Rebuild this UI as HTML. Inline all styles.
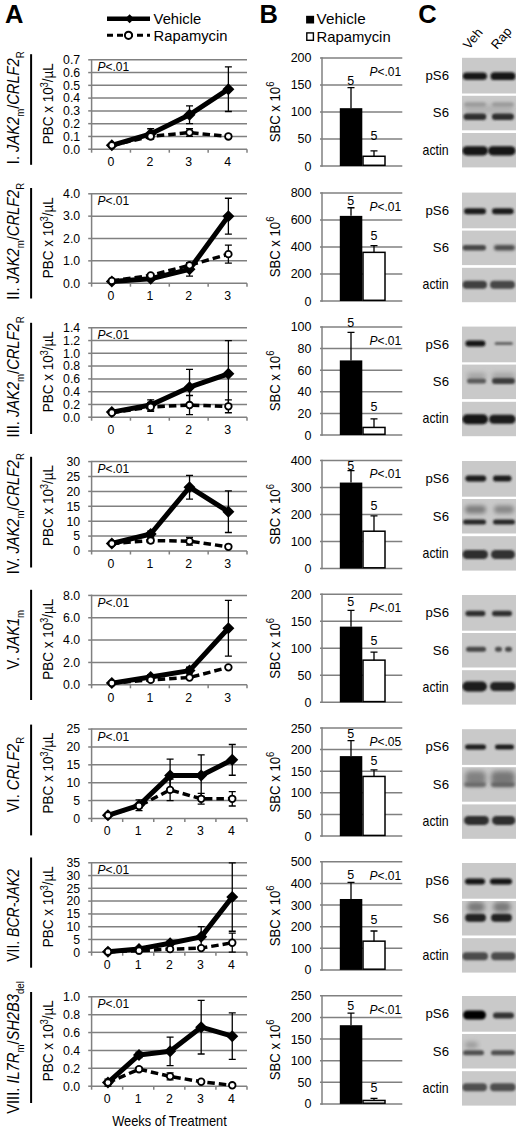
<!DOCTYPE html>
<html><head><meta charset="utf-8"><title>Figure</title><style>html,body{margin:0;padding:0;background:#fff;}body{width:520px;height:1130px;overflow:hidden;}svg{display:block;}</style></head><body>
<svg width="520" height="1130" viewBox="0 0 520 1130" font-family='"Liberation Sans", sans-serif'>
<defs><filter id="bl" x="-20%" y="-50%" width="140%" height="200%"><feGaussianBlur stdDeviation="0.9"/></filter><filter id="bl2" x="-20%" y="-50%" width="140%" height="200%"><feGaussianBlur stdDeviation="2.5"/></filter></defs>
<rect width="520" height="1130" fill="#fff"/>
<text transform="translate(5.00,22.70)" font-size="25.5" text-anchor="start" font-weight="bold" font-style="normal" fill="#000" >A</text>
<text transform="translate(259.40,22.70)" font-size="25.5" text-anchor="start" font-weight="bold" font-style="normal" fill="#000" >B</text>
<text transform="translate(418.20,22.70)" font-size="25.5" text-anchor="start" font-weight="bold" font-style="normal" fill="#000" >C</text>
<line x1="107" y1="18.8" x2="150" y2="18.8" stroke="#000" stroke-width="4.5"/>
<path d="M129.6,14.3 L134.1,18.8 L129.6,23.3 L125.1,18.8 Z" fill="#000"/>
<text transform="translate(153.60,23.50) scale(1.02,1)" font-size="14.5" text-anchor="start" font-weight="normal" font-style="normal" fill="#000" >Vehicle</text>
<line x1="107" y1="35.3" x2="150" y2="35.3" stroke="#000" stroke-width="3" stroke-dasharray="6,4"/>
<circle cx="128.5" cy="35.3" r="3.6" fill="#fff" stroke="#000" stroke-width="2"/>
<text transform="translate(153.60,41.00) scale(1.02,1)" font-size="14.5" text-anchor="start" font-weight="normal" font-style="normal" fill="#000" >Rapamycin</text>
<rect x="306.1" y="15.8" width="8" height="7.7" fill="#000"/>
<text transform="translate(316.60,23.90) scale(1.03,1)" font-size="14.8" text-anchor="start" font-weight="normal" font-style="normal" fill="#000" >Vehicle</text>
<rect x="306.8" y="32.9" width="6.6" height="7.4" fill="#fff" stroke="#000" stroke-width="1.4"/>
<text transform="translate(316.60,41.60)" font-size="14.8" text-anchor="start" font-weight="normal" font-style="normal" fill="#000" >Rapamycin</text>
<text transform="translate(469.00,50.00) rotate(-50)" font-size="13" text-anchor="start" font-weight="normal" font-style="normal" fill="#000" >Veh</text>
<text transform="translate(497.00,50.00) rotate(-50)" font-size="13" text-anchor="start" font-weight="normal" font-style="normal" fill="#000" >Rap</text>
<text transform="translate(19.40,107.75) rotate(-90) scale(0.917,1)" font-size="16" text-anchor="middle" font-weight="normal" font-style="normal" fill="#000" >I. <tspan font-style="italic">JAK2</tspan><tspan font-size="10.5" dy="4.1">m</tspan><tspan dy="-4.1">/</tspan><tspan font-style="italic">CRLF2</tspan><tspan font-size="10.5" dy="4.1">R</tspan></text>
<line x1="31.1" y1="54.2" x2="31.1" y2="164.8" stroke="#000" stroke-width="2"/>
<text transform="translate(52.80,103.70) rotate(-90) scale(0.9,1)" font-size="15" text-anchor="middle" font-weight="normal" font-style="normal" fill="#000" >PBC x 10<tspan font-size="10" dy="-5.2">3</tspan><tspan dy="5.2">/µL</tspan></text>
<line x1="88.2" y1="149.20" x2="91.6" y2="149.20" stroke="#808080" stroke-width="1.5"/>
<text transform="translate(80.20,153.50)" font-size="12.3" text-anchor="end" font-weight="normal" font-style="normal" fill="#000" >0.0</text>
<line x1="91.6" y1="136.43" x2="247.0" y2="136.43" stroke="#808080" stroke-width="1.5"/>
<line x1="88.2" y1="136.43" x2="91.6" y2="136.43" stroke="#808080" stroke-width="1.5"/>
<text transform="translate(80.20,140.73)" font-size="12.3" text-anchor="end" font-weight="normal" font-style="normal" fill="#000" >0.1</text>
<line x1="91.6" y1="123.66" x2="247.0" y2="123.66" stroke="#808080" stroke-width="1.5"/>
<line x1="88.2" y1="123.66" x2="91.6" y2="123.66" stroke="#808080" stroke-width="1.5"/>
<text transform="translate(80.20,127.96)" font-size="12.3" text-anchor="end" font-weight="normal" font-style="normal" fill="#000" >0.2</text>
<line x1="91.6" y1="110.89" x2="247.0" y2="110.89" stroke="#808080" stroke-width="1.5"/>
<line x1="88.2" y1="110.89" x2="91.6" y2="110.89" stroke="#808080" stroke-width="1.5"/>
<text transform="translate(80.20,115.19)" font-size="12.3" text-anchor="end" font-weight="normal" font-style="normal" fill="#000" >0.3</text>
<line x1="91.6" y1="98.11" x2="247.0" y2="98.11" stroke="#808080" stroke-width="1.5"/>
<line x1="88.2" y1="98.11" x2="91.6" y2="98.11" stroke="#808080" stroke-width="1.5"/>
<text transform="translate(80.20,102.41)" font-size="12.3" text-anchor="end" font-weight="normal" font-style="normal" fill="#000" >0.4</text>
<line x1="91.6" y1="85.34" x2="247.0" y2="85.34" stroke="#808080" stroke-width="1.5"/>
<line x1="88.2" y1="85.34" x2="91.6" y2="85.34" stroke="#808080" stroke-width="1.5"/>
<text transform="translate(80.20,89.64)" font-size="12.3" text-anchor="end" font-weight="normal" font-style="normal" fill="#000" >0.5</text>
<line x1="91.6" y1="72.57" x2="247.0" y2="72.57" stroke="#808080" stroke-width="1.5"/>
<line x1="88.2" y1="72.57" x2="91.6" y2="72.57" stroke="#808080" stroke-width="1.5"/>
<text transform="translate(80.20,76.87)" font-size="12.3" text-anchor="end" font-weight="normal" font-style="normal" fill="#000" >0.6</text>
<line x1="91.6" y1="59.80" x2="247.0" y2="59.80" stroke="#808080" stroke-width="1.5"/>
<line x1="88.2" y1="59.80" x2="91.6" y2="59.80" stroke="#808080" stroke-width="1.5"/>
<text transform="translate(80.20,64.10)" font-size="12.3" text-anchor="end" font-weight="normal" font-style="normal" fill="#000" >0.7</text>
<line x1="91.6" y1="59.05" x2="91.6" y2="149.95" stroke="#808080" stroke-width="1.5"/>
<line x1="90.85" y1="149.20" x2="247.0" y2="149.20" stroke="#808080" stroke-width="1.5"/>
<line x1="91.60" y1="149.20" x2="91.60" y2="152.70" stroke="#808080" stroke-width="1.5"/>
<line x1="130.45" y1="149.20" x2="130.45" y2="152.70" stroke="#808080" stroke-width="1.5"/>
<line x1="169.30" y1="149.20" x2="169.30" y2="152.70" stroke="#808080" stroke-width="1.5"/>
<line x1="208.15" y1="149.20" x2="208.15" y2="152.70" stroke="#808080" stroke-width="1.5"/>
<line x1="247.00" y1="149.20" x2="247.00" y2="152.70" stroke="#808080" stroke-width="1.5"/>
<text transform="translate(111.02,166.10)" font-size="12.3" text-anchor="middle" font-weight="normal" font-style="normal" fill="#000" >0</text>
<text transform="translate(149.88,166.10)" font-size="12.3" text-anchor="middle" font-weight="normal" font-style="normal" fill="#000" >2</text>
<text transform="translate(188.72,166.10)" font-size="12.3" text-anchor="middle" font-weight="normal" font-style="normal" fill="#000" >3</text>
<text transform="translate(227.57,166.10)" font-size="12.3" text-anchor="middle" font-weight="normal" font-style="normal" fill="#000" >4</text>
<text transform="translate(97.50,71.40)" font-size="12" text-anchor="start" font-weight="normal" font-style="normal" fill="#000" ><tspan font-style="italic">P</tspan>&lt;.01</text>
<path d="M150.68,128.77V138.98M147.18,128.77h7M147.18,138.98h7" stroke="#000" stroke-width="1.3" fill="none"/>
<path d="M189.53,105.78V123.66M186.03,105.78h7M186.03,123.66h7" stroke="#000" stroke-width="1.3" fill="none"/>
<path d="M228.38,66.82V111.52M224.88,66.82h7M224.88,111.52h7" stroke="#000" stroke-width="1.3" fill="none"/>
<path d="M150.68,135.15V137.71M147.18,135.15h7M147.18,137.71h7" stroke="#000" stroke-width="1.3" fill="none"/>
<path d="M189.53,128.77V136.43M186.03,128.77h7M186.03,136.43h7" stroke="#000" stroke-width="1.3" fill="none"/>
<path d="M228.38,134.51V138.34M224.88,134.51h7M224.88,138.34h7" stroke="#000" stroke-width="1.3" fill="none"/>
<polyline points="111.82,145.37 150.68,136.43 189.53,132.60 228.38,136.43" fill="none" stroke="#000" stroke-width="3.5" stroke-dasharray="7.5,4"/>
<polyline points="111.82,145.37 150.68,133.87 189.53,114.72 228.38,89.17" fill="none" stroke="#000" stroke-width="5.0" stroke-linejoin="round"/>
<path d="M111.82,139.37L117.82,145.37L111.82,151.37L105.82,145.37Z" fill="#000"/>
<path d="M150.68,127.87L156.68,133.87L150.68,139.87L144.68,133.87Z" fill="#000"/>
<path d="M189.53,108.72L195.53,114.72L189.53,120.72L183.53,114.72Z" fill="#000"/>
<path d="M228.38,83.17L234.38,89.17L228.38,95.17L222.38,89.17Z" fill="#000"/>
<circle cx="111.82" cy="145.37" r="3.3" fill="#fff" stroke="#000" stroke-width="1.8"/>
<circle cx="150.68" cy="136.43" r="3.3" fill="#fff" stroke="#000" stroke-width="1.8"/>
<circle cx="189.53" cy="132.60" r="3.3" fill="#fff" stroke="#000" stroke-width="1.8"/>
<circle cx="228.38" cy="136.43" r="3.3" fill="#fff" stroke="#000" stroke-width="1.8"/>
<text transform="translate(280.00,111.95) rotate(-90) scale(0.907,1)" font-size="14.5" text-anchor="middle" font-weight="normal" font-style="normal" fill="#000" >SBC x 10<tspan font-size="10.5" dy="-5.8">6</tspan></text>
<line x1="320.0" y1="166.00" x2="402.3" y2="166.00" stroke="#808080" stroke-width="1.5"/>
<text transform="translate(311.50,170.50)" font-size="12.5" text-anchor="end" font-weight="normal" font-style="normal" fill="#000" >0</text>
<line x1="320.0" y1="138.97" x2="402.3" y2="138.97" stroke="#808080" stroke-width="1.5"/>
<text transform="translate(311.50,143.47)" font-size="12.5" text-anchor="end" font-weight="normal" font-style="normal" fill="#000" >50</text>
<line x1="320.0" y1="111.95" x2="402.3" y2="111.95" stroke="#808080" stroke-width="1.5"/>
<text transform="translate(311.50,116.45)" font-size="12.5" text-anchor="end" font-weight="normal" font-style="normal" fill="#000" >100</text>
<line x1="320.0" y1="84.93" x2="402.3" y2="84.93" stroke="#808080" stroke-width="1.5"/>
<text transform="translate(311.50,89.43)" font-size="12.5" text-anchor="end" font-weight="normal" font-style="normal" fill="#000" >150</text>
<line x1="320.0" y1="57.90" x2="402.3" y2="57.90" stroke="#808080" stroke-width="1.5"/>
<text transform="translate(311.50,62.40)" font-size="12.5" text-anchor="end" font-weight="normal" font-style="normal" fill="#000" >200</text>
<line x1="322.0" y1="57.15" x2="322.0" y2="166.75" stroke="#808080" stroke-width="1.5"/>
<rect x="339.8" y="108.17" width="22.5" height="57.83" fill="#000"/>
<path d="M351.0,87.63V108.17M347.5,87.63h7" stroke="#000" stroke-width="1.3"/>
<rect x="363.0" y="156.27" width="22.0" height="9.03" fill="#fff" stroke="#000" stroke-width="1.5"/>
<path d="M374.0,150.87V156.27M370.5,150.87h7" stroke="#000" stroke-width="1.3"/>
<text transform="translate(350.80,85.40)" font-size="12.5" text-anchor="middle" font-weight="normal" font-style="normal" fill="#000" >5</text>
<text transform="translate(374.00,140.20)" font-size="12.5" text-anchor="middle" font-weight="normal" font-style="normal" fill="#000" >5</text>
<text transform="translate(369.50,75.90)" font-size="12" text-anchor="start" font-weight="normal" font-style="normal" fill="#000" ><tspan font-style="italic">P</tspan>&lt;.01</text>
<clipPath id="cp0_0"><rect x="462" y="57.80" width="54" height="35.70"/></clipPath>
<rect x="462" y="57.80" width="54" height="35.70" fill="#c9c9c9"/>
<text transform="translate(449.00,79.95)" font-size="13.2" text-anchor="end" font-weight="normal" font-style="normal" fill="#000" >pS6</text>
<rect x="462.80" y="72.60" width="24.10" height="7.20" rx="3.6" fill="rgb(20,20,20)" filter="url(#f0)" clip-path="url(#cp0_0)"/>
<rect x="490.60" y="72.30" width="24.80" height="7.80" rx="3.9" fill="rgb(18,18,18)" filter="url(#f0)" clip-path="url(#cp0_0)"/>
<clipPath id="cp0_1"><rect x="462" y="95.80" width="54" height="34.50"/></clipPath>
<rect x="462" y="95.80" width="54" height="34.50" fill="#c9c9c9"/>
<text transform="translate(449.00,117.35)" font-size="13.2" text-anchor="end" font-weight="normal" font-style="normal" fill="#000" >S6</text>
<rect x="464.00" y="104.50" width="50.00" height="9.00" rx="4.5" fill="rgb(178,178,178)" filter="url(#f1)" clip-path="url(#cp0_1)"/>
<rect x="464.00" y="102.50" width="22.00" height="4.00" rx="2.0" fill="rgb(150,150,150)" filter="url(#f2)" clip-path="url(#cp0_1)"/>
<rect x="492.00" y="102.50" width="22.00" height="4.00" rx="2.0" fill="rgb(150,150,150)" filter="url(#f2)" clip-path="url(#cp0_1)"/>
<rect x="463.50" y="113.60" width="22.80" height="6.40" rx="3.2" fill="rgb(45,45,45)" filter="url(#f0)" clip-path="url(#cp0_1)"/>
<rect x="491.90" y="113.60" width="22.10" height="6.40" rx="3.2" fill="rgb(45,45,45)" filter="url(#f0)" clip-path="url(#cp0_1)"/>
<clipPath id="cp0_2"><rect x="462" y="133.00" width="54" height="34.40"/></clipPath>
<rect x="462" y="133.00" width="54" height="34.40" fill="#c9c9c9"/>
<text transform="translate(448.60,154.50) scale(0.88,1)" font-size="14" text-anchor="end" font-weight="normal" font-style="normal" fill="#000" >actin</text>
<rect x="462.30" y="146.20" width="25.70" height="9.20" rx="4.6" fill="rgb(22,22,22)" filter="url(#f0)" clip-path="url(#cp0_2)"/>
<rect x="488.00" y="146.20" width="27.60" height="9.20" rx="4.6" fill="rgb(22,22,22)" filter="url(#f0)" clip-path="url(#cp0_2)"/>
<text transform="translate(19.40,241.20) rotate(-90) scale(0.917,1)" font-size="16" text-anchor="middle" font-weight="normal" font-style="normal" fill="#000" >II. <tspan font-style="italic">JAK2</tspan><tspan font-size="10.5" dy="4.1">m</tspan><tspan dy="-4.1">/</tspan><tspan font-style="italic">CRLF2</tspan><tspan font-size="10.5" dy="4.1">R</tspan></text>
<line x1="31.1" y1="188.0" x2="31.1" y2="298.5" stroke="#000" stroke-width="2"/>
<text transform="translate(52.80,237.70) rotate(-90) scale(0.9,1)" font-size="15" text-anchor="middle" font-weight="normal" font-style="normal" fill="#000" >PBC x 10<tspan font-size="10" dy="-5.2">3</tspan><tspan dy="5.2">/µL</tspan></text>
<line x1="88.2" y1="283.20" x2="91.6" y2="283.20" stroke="#808080" stroke-width="1.5"/>
<text transform="translate(80.20,287.50)" font-size="12.3" text-anchor="end" font-weight="normal" font-style="normal" fill="#000" >0.0</text>
<line x1="91.6" y1="260.85" x2="247.0" y2="260.85" stroke="#808080" stroke-width="1.5"/>
<line x1="88.2" y1="260.85" x2="91.6" y2="260.85" stroke="#808080" stroke-width="1.5"/>
<text transform="translate(80.20,265.15)" font-size="12.3" text-anchor="end" font-weight="normal" font-style="normal" fill="#000" >1.0</text>
<line x1="91.6" y1="238.50" x2="247.0" y2="238.50" stroke="#808080" stroke-width="1.5"/>
<line x1="88.2" y1="238.50" x2="91.6" y2="238.50" stroke="#808080" stroke-width="1.5"/>
<text transform="translate(80.20,242.80)" font-size="12.3" text-anchor="end" font-weight="normal" font-style="normal" fill="#000" >2.0</text>
<line x1="91.6" y1="216.15" x2="247.0" y2="216.15" stroke="#808080" stroke-width="1.5"/>
<line x1="88.2" y1="216.15" x2="91.6" y2="216.15" stroke="#808080" stroke-width="1.5"/>
<text transform="translate(80.20,220.45)" font-size="12.3" text-anchor="end" font-weight="normal" font-style="normal" fill="#000" >3.0</text>
<line x1="91.6" y1="193.80" x2="247.0" y2="193.80" stroke="#808080" stroke-width="1.5"/>
<line x1="88.2" y1="193.80" x2="91.6" y2="193.80" stroke="#808080" stroke-width="1.5"/>
<text transform="translate(80.20,198.10)" font-size="12.3" text-anchor="end" font-weight="normal" font-style="normal" fill="#000" >4.0</text>
<line x1="91.6" y1="193.05" x2="91.6" y2="283.95" stroke="#808080" stroke-width="1.5"/>
<line x1="90.85" y1="283.20" x2="247.0" y2="283.20" stroke="#808080" stroke-width="1.5"/>
<line x1="91.60" y1="283.20" x2="91.60" y2="286.70" stroke="#808080" stroke-width="1.5"/>
<line x1="130.45" y1="283.20" x2="130.45" y2="286.70" stroke="#808080" stroke-width="1.5"/>
<line x1="169.30" y1="283.20" x2="169.30" y2="286.70" stroke="#808080" stroke-width="1.5"/>
<line x1="208.15" y1="283.20" x2="208.15" y2="286.70" stroke="#808080" stroke-width="1.5"/>
<line x1="247.00" y1="283.20" x2="247.00" y2="286.70" stroke="#808080" stroke-width="1.5"/>
<text transform="translate(111.02,300.10)" font-size="12.3" text-anchor="middle" font-weight="normal" font-style="normal" fill="#000" >0</text>
<text transform="translate(149.88,300.10)" font-size="12.3" text-anchor="middle" font-weight="normal" font-style="normal" fill="#000" >1</text>
<text transform="translate(188.72,300.10)" font-size="12.3" text-anchor="middle" font-weight="normal" font-style="normal" fill="#000" >2</text>
<text transform="translate(227.57,300.10)" font-size="12.3" text-anchor="middle" font-weight="normal" font-style="normal" fill="#000" >3</text>
<text transform="translate(97.50,205.40)" font-size="12" text-anchor="start" font-weight="normal" font-style="normal" fill="#000" ><tspan font-style="italic">P</tspan>&lt;.01</text>
<path d="M111.82,280.74V282.08M108.32,280.74h7M108.32,282.08h7" stroke="#000" stroke-width="1.3" fill="none"/>
<path d="M150.68,277.61V279.85M147.18,277.61h7M147.18,279.85h7" stroke="#000" stroke-width="1.3" fill="none"/>
<path d="M189.53,262.64V276.05M186.03,262.64h7M186.03,276.05h7" stroke="#000" stroke-width="1.3" fill="none"/>
<path d="M228.38,198.27V234.03M224.88,198.27h7M224.88,234.03h7" stroke="#000" stroke-width="1.3" fill="none"/>
<path d="M111.82,280.29V281.64M108.32,280.29h7M108.32,281.64h7" stroke="#000" stroke-width="1.3" fill="none"/>
<path d="M150.68,274.26V276.50M147.18,274.26h7M147.18,276.50h7" stroke="#000" stroke-width="1.3" fill="none"/>
<path d="M189.53,263.09V267.56M186.03,263.09h7M186.03,267.56h7" stroke="#000" stroke-width="1.3" fill="none"/>
<path d="M228.38,245.21V263.09M224.88,245.21h7M224.88,263.09h7" stroke="#000" stroke-width="1.3" fill="none"/>
<polyline points="111.82,280.97 150.68,275.38 189.53,265.32 228.38,254.15" fill="none" stroke="#000" stroke-width="3.5" stroke-dasharray="7.5,4"/>
<polyline points="111.82,281.41 150.68,278.73 189.53,269.34 228.38,216.15" fill="none" stroke="#000" stroke-width="5.0" stroke-linejoin="round"/>
<path d="M111.82,275.41L117.82,281.41L111.82,287.41L105.82,281.41Z" fill="#000"/>
<path d="M150.68,272.73L156.68,278.73L150.68,284.73L144.68,278.73Z" fill="#000"/>
<path d="M189.53,263.34L195.53,269.34L189.53,275.34L183.53,269.34Z" fill="#000"/>
<path d="M228.38,210.15L234.38,216.15L228.38,222.15L222.38,216.15Z" fill="#000"/>
<circle cx="111.82" cy="280.97" r="3.3" fill="#fff" stroke="#000" stroke-width="1.8"/>
<circle cx="150.68" cy="275.38" r="3.3" fill="#fff" stroke="#000" stroke-width="1.8"/>
<circle cx="189.53" cy="265.32" r="3.3" fill="#fff" stroke="#000" stroke-width="1.8"/>
<circle cx="228.38" cy="254.15" r="3.3" fill="#fff" stroke="#000" stroke-width="1.8"/>
<text transform="translate(280.00,246.95) rotate(-90) scale(0.907,1)" font-size="14.5" text-anchor="middle" font-weight="normal" font-style="normal" fill="#000" >SBC x 10<tspan font-size="10.5" dy="-5.8">6</tspan></text>
<line x1="320.0" y1="301.00" x2="402.3" y2="301.00" stroke="#808080" stroke-width="1.5"/>
<text transform="translate(311.50,305.50)" font-size="12.5" text-anchor="end" font-weight="normal" font-style="normal" fill="#000" >0</text>
<line x1="320.0" y1="273.98" x2="402.3" y2="273.98" stroke="#808080" stroke-width="1.5"/>
<text transform="translate(311.50,278.48)" font-size="12.5" text-anchor="end" font-weight="normal" font-style="normal" fill="#000" >200</text>
<line x1="320.0" y1="246.95" x2="402.3" y2="246.95" stroke="#808080" stroke-width="1.5"/>
<text transform="translate(311.50,251.45)" font-size="12.5" text-anchor="end" font-weight="normal" font-style="normal" fill="#000" >400</text>
<line x1="320.0" y1="219.93" x2="402.3" y2="219.93" stroke="#808080" stroke-width="1.5"/>
<text transform="translate(311.50,224.43)" font-size="12.5" text-anchor="end" font-weight="normal" font-style="normal" fill="#000" >600</text>
<line x1="320.0" y1="192.90" x2="402.3" y2="192.90" stroke="#808080" stroke-width="1.5"/>
<text transform="translate(311.50,197.40)" font-size="12.5" text-anchor="end" font-weight="normal" font-style="normal" fill="#000" >800</text>
<line x1="322.0" y1="192.15" x2="322.0" y2="301.75" stroke="#808080" stroke-width="1.5"/>
<rect x="339.8" y="215.87" width="22.5" height="85.13" fill="#000"/>
<path d="M351.0,207.76V215.87M347.5,207.76h7" stroke="#000" stroke-width="1.3"/>
<rect x="363.0" y="252.35" width="22.0" height="47.95" fill="#fff" stroke="#000" stroke-width="1.5"/>
<path d="M374.0,245.60V252.35M370.5,245.60h7" stroke="#000" stroke-width="1.3"/>
<text transform="translate(350.80,204.50)" font-size="12.5" text-anchor="middle" font-weight="normal" font-style="normal" fill="#000" >5</text>
<text transform="translate(374.00,239.70)" font-size="12.5" text-anchor="middle" font-weight="normal" font-style="normal" fill="#000" >5</text>
<text transform="translate(369.50,210.90)" font-size="12" text-anchor="start" font-weight="normal" font-style="normal" fill="#000" ><tspan font-style="italic">P</tspan>&lt;.01</text>
<clipPath id="cp1_0"><rect x="462" y="192.60" width="54" height="35.70"/></clipPath>
<rect x="462" y="192.60" width="54" height="35.70" fill="#c9c9c9"/>
<text transform="translate(449.00,214.75)" font-size="13.2" text-anchor="end" font-weight="normal" font-style="normal" fill="#000" >pS6</text>
<rect x="464.00" y="208.30" width="22.00" height="6.00" rx="3.0" fill="rgb(28,28,28)" filter="url(#f0)" clip-path="url(#cp1_0)"/>
<rect x="492.00" y="208.30" width="21.70" height="6.00" rx="3.0" fill="rgb(28,28,28)" filter="url(#f0)" clip-path="url(#cp1_0)"/>
<clipPath id="cp1_1"><rect x="462" y="230.60" width="54" height="34.50"/></clipPath>
<rect x="462" y="230.60" width="54" height="34.50" fill="#c9c9c9"/>
<text transform="translate(449.00,252.15)" font-size="13.2" text-anchor="end" font-weight="normal" font-style="normal" fill="#000" >S6</text>
<rect x="462.50" y="244.95" width="23.50" height="5.50" rx="2.8" fill="rgb(70,70,70)" filter="url(#f3)" clip-path="url(#cp1_1)"/>
<rect x="494.00" y="244.95" width="21.00" height="5.50" rx="2.8" fill="rgb(75,75,75)" filter="url(#f4)" clip-path="url(#cp1_1)"/>
<clipPath id="cp1_2"><rect x="462" y="267.80" width="54" height="34.40"/></clipPath>
<rect x="462" y="267.80" width="54" height="34.40" fill="#c9c9c9"/>
<text transform="translate(448.60,289.30) scale(0.88,1)" font-size="14" text-anchor="end" font-weight="normal" font-style="normal" fill="#000" >actin</text>
<rect x="462.50" y="280.70" width="24.50" height="8.00" rx="4.0" fill="rgb(65,65,65)" filter="url(#f0)" clip-path="url(#cp1_2)"/>
<rect x="490.00" y="280.70" width="25.00" height="8.00" rx="4.0" fill="rgb(70,70,70)" filter="url(#f0)" clip-path="url(#cp1_2)"/>
<text transform="translate(19.40,376.90) rotate(-90) scale(0.917,1)" font-size="16" text-anchor="middle" font-weight="normal" font-style="normal" fill="#000" >III. <tspan font-style="italic">JAK2</tspan><tspan font-size="10.5" dy="4.1">m</tspan><tspan dy="-4.1">/</tspan><tspan font-style="italic">CRLF2</tspan><tspan font-size="10.5" dy="4.1">R</tspan></text>
<line x1="31.1" y1="322.8" x2="31.1" y2="434.0" stroke="#000" stroke-width="2"/>
<text transform="translate(52.80,371.70) rotate(-90) scale(0.9,1)" font-size="15" text-anchor="middle" font-weight="normal" font-style="normal" fill="#000" >PBC x 10<tspan font-size="10" dy="-5.2">3</tspan><tspan dy="5.2">/µL</tspan></text>
<line x1="88.2" y1="417.20" x2="91.6" y2="417.20" stroke="#808080" stroke-width="1.5"/>
<text transform="translate(80.20,421.50)" font-size="12.3" text-anchor="end" font-weight="normal" font-style="normal" fill="#000" >0.0</text>
<line x1="91.6" y1="404.43" x2="247.0" y2="404.43" stroke="#808080" stroke-width="1.5"/>
<line x1="88.2" y1="404.43" x2="91.6" y2="404.43" stroke="#808080" stroke-width="1.5"/>
<text transform="translate(80.20,408.73)" font-size="12.3" text-anchor="end" font-weight="normal" font-style="normal" fill="#000" >0.2</text>
<line x1="91.6" y1="391.66" x2="247.0" y2="391.66" stroke="#808080" stroke-width="1.5"/>
<line x1="88.2" y1="391.66" x2="91.6" y2="391.66" stroke="#808080" stroke-width="1.5"/>
<text transform="translate(80.20,395.96)" font-size="12.3" text-anchor="end" font-weight="normal" font-style="normal" fill="#000" >0.4</text>
<line x1="91.6" y1="378.89" x2="247.0" y2="378.89" stroke="#808080" stroke-width="1.5"/>
<line x1="88.2" y1="378.89" x2="91.6" y2="378.89" stroke="#808080" stroke-width="1.5"/>
<text transform="translate(80.20,383.19)" font-size="12.3" text-anchor="end" font-weight="normal" font-style="normal" fill="#000" >0.6</text>
<line x1="91.6" y1="366.11" x2="247.0" y2="366.11" stroke="#808080" stroke-width="1.5"/>
<line x1="88.2" y1="366.11" x2="91.6" y2="366.11" stroke="#808080" stroke-width="1.5"/>
<text transform="translate(80.20,370.41)" font-size="12.3" text-anchor="end" font-weight="normal" font-style="normal" fill="#000" >0.8</text>
<line x1="91.6" y1="353.34" x2="247.0" y2="353.34" stroke="#808080" stroke-width="1.5"/>
<line x1="88.2" y1="353.34" x2="91.6" y2="353.34" stroke="#808080" stroke-width="1.5"/>
<text transform="translate(80.20,357.64)" font-size="12.3" text-anchor="end" font-weight="normal" font-style="normal" fill="#000" >1.0</text>
<line x1="91.6" y1="340.57" x2="247.0" y2="340.57" stroke="#808080" stroke-width="1.5"/>
<line x1="88.2" y1="340.57" x2="91.6" y2="340.57" stroke="#808080" stroke-width="1.5"/>
<text transform="translate(80.20,344.87)" font-size="12.3" text-anchor="end" font-weight="normal" font-style="normal" fill="#000" >1.2</text>
<line x1="91.6" y1="327.80" x2="247.0" y2="327.80" stroke="#808080" stroke-width="1.5"/>
<line x1="88.2" y1="327.80" x2="91.6" y2="327.80" stroke="#808080" stroke-width="1.5"/>
<text transform="translate(80.20,332.10)" font-size="12.3" text-anchor="end" font-weight="normal" font-style="normal" fill="#000" >1.4</text>
<line x1="91.6" y1="327.05" x2="91.6" y2="417.95" stroke="#808080" stroke-width="1.5"/>
<line x1="90.85" y1="417.20" x2="247.0" y2="417.20" stroke="#808080" stroke-width="1.5"/>
<line x1="91.60" y1="417.20" x2="91.60" y2="420.70" stroke="#808080" stroke-width="1.5"/>
<line x1="130.45" y1="417.20" x2="130.45" y2="420.70" stroke="#808080" stroke-width="1.5"/>
<line x1="169.30" y1="417.20" x2="169.30" y2="420.70" stroke="#808080" stroke-width="1.5"/>
<line x1="208.15" y1="417.20" x2="208.15" y2="420.70" stroke="#808080" stroke-width="1.5"/>
<line x1="247.00" y1="417.20" x2="247.00" y2="420.70" stroke="#808080" stroke-width="1.5"/>
<text transform="translate(111.02,434.10)" font-size="12.3" text-anchor="middle" font-weight="normal" font-style="normal" fill="#000" >0</text>
<text transform="translate(149.88,434.10)" font-size="12.3" text-anchor="middle" font-weight="normal" font-style="normal" fill="#000" >1</text>
<text transform="translate(188.72,434.10)" font-size="12.3" text-anchor="middle" font-weight="normal" font-style="normal" fill="#000" >2</text>
<text transform="translate(227.57,434.10)" font-size="12.3" text-anchor="middle" font-weight="normal" font-style="normal" fill="#000" >3</text>
<text transform="translate(97.50,339.40)" font-size="12" text-anchor="start" font-weight="normal" font-style="normal" fill="#000" ><tspan font-style="italic">P</tspan>&lt;.01</text>
<path d="M111.82,410.18V414.01M108.32,410.18h7M108.32,414.01h7" stroke="#000" stroke-width="1.3" fill="none"/>
<path d="M150.68,399.96V410.18M147.18,399.96h7M147.18,410.18h7" stroke="#000" stroke-width="1.3" fill="none"/>
<path d="M189.53,369.31V405.07M186.03,369.31h7M186.03,405.07h7" stroke="#000" stroke-width="1.3" fill="none"/>
<path d="M228.38,340.57V406.98M224.88,340.57h7M224.88,406.98h7" stroke="#000" stroke-width="1.3" fill="none"/>
<path d="M111.82,411.45V414.01M108.32,411.45h7M108.32,414.01h7" stroke="#000" stroke-width="1.3" fill="none"/>
<path d="M150.68,402.51V411.45M147.18,402.51h7M147.18,411.45h7" stroke="#000" stroke-width="1.3" fill="none"/>
<path d="M189.53,395.49V414.65M186.03,395.49h7M186.03,414.65h7" stroke="#000" stroke-width="1.3" fill="none"/>
<path d="M228.38,399.96V412.73M224.88,399.96h7M224.88,412.73h7" stroke="#000" stroke-width="1.3" fill="none"/>
<polyline points="111.82,412.73 150.68,406.98 189.53,405.07 228.38,406.34" fill="none" stroke="#000" stroke-width="3.5" stroke-dasharray="7.5,4"/>
<polyline points="111.82,412.09 150.68,405.07 189.53,387.19 228.38,373.78" fill="none" stroke="#000" stroke-width="5.0" stroke-linejoin="round"/>
<path d="M111.82,406.09L117.82,412.09L111.82,418.09L105.82,412.09Z" fill="#000"/>
<path d="M150.68,399.07L156.68,405.07L150.68,411.07L144.68,405.07Z" fill="#000"/>
<path d="M189.53,381.19L195.53,387.19L189.53,393.19L183.53,387.19Z" fill="#000"/>
<path d="M228.38,367.78L234.38,373.78L228.38,379.78L222.38,373.78Z" fill="#000"/>
<circle cx="111.82" cy="412.73" r="3.3" fill="#fff" stroke="#000" stroke-width="1.8"/>
<circle cx="150.68" cy="406.98" r="3.3" fill="#fff" stroke="#000" stroke-width="1.8"/>
<circle cx="189.53" cy="405.07" r="3.3" fill="#fff" stroke="#000" stroke-width="1.8"/>
<circle cx="228.38" cy="406.34" r="3.3" fill="#fff" stroke="#000" stroke-width="1.8"/>
<text transform="translate(280.00,380.95) rotate(-90) scale(0.907,1)" font-size="14.5" text-anchor="middle" font-weight="normal" font-style="normal" fill="#000" >SBC x 10<tspan font-size="10.5" dy="-5.8">6</tspan></text>
<line x1="320.0" y1="435.00" x2="402.3" y2="435.00" stroke="#808080" stroke-width="1.5"/>
<text transform="translate(311.50,439.50)" font-size="12.5" text-anchor="end" font-weight="normal" font-style="normal" fill="#000" >0</text>
<line x1="320.0" y1="413.38" x2="402.3" y2="413.38" stroke="#808080" stroke-width="1.5"/>
<text transform="translate(311.50,417.88)" font-size="12.5" text-anchor="end" font-weight="normal" font-style="normal" fill="#000" >20</text>
<line x1="320.0" y1="391.76" x2="402.3" y2="391.76" stroke="#808080" stroke-width="1.5"/>
<text transform="translate(311.50,396.26)" font-size="12.5" text-anchor="end" font-weight="normal" font-style="normal" fill="#000" >40</text>
<line x1="320.0" y1="370.14" x2="402.3" y2="370.14" stroke="#808080" stroke-width="1.5"/>
<text transform="translate(311.50,374.64)" font-size="12.5" text-anchor="end" font-weight="normal" font-style="normal" fill="#000" >60</text>
<line x1="320.0" y1="348.52" x2="402.3" y2="348.52" stroke="#808080" stroke-width="1.5"/>
<text transform="translate(311.50,353.02)" font-size="12.5" text-anchor="end" font-weight="normal" font-style="normal" fill="#000" >80</text>
<line x1="320.0" y1="326.90" x2="402.3" y2="326.90" stroke="#808080" stroke-width="1.5"/>
<text transform="translate(311.50,331.40)" font-size="12.5" text-anchor="end" font-weight="normal" font-style="normal" fill="#000" >100</text>
<line x1="322.0" y1="326.15" x2="322.0" y2="435.75" stroke="#808080" stroke-width="1.5"/>
<rect x="339.8" y="360.41" width="22.5" height="74.59" fill="#000"/>
<path d="M351.0,332.30V360.41M347.5,332.30h7" stroke="#000" stroke-width="1.3"/>
<rect x="363.0" y="427.43" width="22.0" height="6.87" fill="#fff" stroke="#000" stroke-width="1.5"/>
<path d="M374.0,418.78V427.43M370.5,418.78h7" stroke="#000" stroke-width="1.3"/>
<text transform="translate(350.80,326.70)" font-size="12.5" text-anchor="middle" font-weight="normal" font-style="normal" fill="#000" >5</text>
<text transform="translate(374.00,411.00)" font-size="12.5" text-anchor="middle" font-weight="normal" font-style="normal" fill="#000" >5</text>
<text transform="translate(369.50,344.90)" font-size="12" text-anchor="start" font-weight="normal" font-style="normal" fill="#000" ><tspan font-style="italic">P</tspan>&lt;.01</text>
<clipPath id="cp2_0"><rect x="462" y="326.60" width="54" height="35.70"/></clipPath>
<rect x="462" y="326.60" width="54" height="35.70" fill="#c9c9c9"/>
<text transform="translate(449.00,348.75)" font-size="13.2" text-anchor="end" font-weight="normal" font-style="normal" fill="#000" >pS6</text>
<rect x="465.40" y="340.50" width="20.00" height="6.00" rx="3.0" fill="rgb(18,18,18)" filter="url(#f0)" clip-path="url(#cp2_0)"/>
<rect x="494.60" y="341.90" width="18.40" height="3.20" rx="1.6" fill="rgb(100,100,100)" filter="url(#f0)" clip-path="url(#cp2_0)"/>
<clipPath id="cp2_1"><rect x="462" y="364.60" width="54" height="34.50"/></clipPath>
<rect x="462" y="364.60" width="54" height="34.50" fill="#c9c9c9"/>
<text transform="translate(449.00,386.15)" font-size="13.2" text-anchor="end" font-weight="normal" font-style="normal" fill="#000" >S6</text>
<rect x="467.00" y="373.00" width="19.00" height="6.00" rx="3.0" fill="rgb(160,160,160)" filter="url(#f1)" clip-path="url(#cp2_1)"/>
<rect x="492.00" y="373.00" width="23.00" height="6.00" rx="3.0" fill="rgb(160,160,160)" filter="url(#f1)" clip-path="url(#cp2_1)"/>
<rect x="467.00" y="378.50" width="19.00" height="5.00" rx="2.5" fill="rgb(90,90,90)" filter="url(#f3)" clip-path="url(#cp2_1)"/>
<rect x="492.00" y="378.00" width="23.00" height="6.00" rx="3.0" fill="rgb(60,60,60)" filter="url(#f3)" clip-path="url(#cp2_1)"/>
<clipPath id="cp2_2"><rect x="462" y="401.80" width="54" height="34.40"/></clipPath>
<rect x="462" y="401.80" width="54" height="34.40" fill="#c9c9c9"/>
<text transform="translate(448.60,423.30) scale(0.88,1)" font-size="14" text-anchor="end" font-weight="normal" font-style="normal" fill="#000" >actin</text>
<rect x="462.30" y="414.20" width="25.70" height="10.00" rx="5.0" fill="rgb(25,25,25)" filter="url(#f0)" clip-path="url(#cp2_2)"/>
<rect x="489.00" y="414.70" width="26.60" height="9.00" rx="4.5" fill="rgb(30,30,30)" filter="url(#f0)" clip-path="url(#cp2_2)"/>
<text transform="translate(19.40,513.65) rotate(-90) scale(0.917,1)" font-size="16" text-anchor="middle" font-weight="normal" font-style="normal" fill="#000" >IV. <tspan font-style="italic">JAK2</tspan><tspan font-size="10.5" dy="4.1">m</tspan><tspan dy="-4.1">/</tspan><tspan font-style="italic">CRLF2</tspan><tspan font-size="10.5" dy="4.1">R</tspan></text>
<line x1="31.1" y1="456.8" x2="31.1" y2="567.5" stroke="#000" stroke-width="2"/>
<text transform="translate(52.80,505.50) rotate(-90) scale(0.9,1)" font-size="15" text-anchor="middle" font-weight="normal" font-style="normal" fill="#000" >PBC x 10<tspan font-size="10" dy="-5.2">3</tspan><tspan dy="5.2">/µL</tspan></text>
<line x1="88.2" y1="551.00" x2="91.6" y2="551.00" stroke="#808080" stroke-width="1.5"/>
<text transform="translate(80.20,555.30)" font-size="12.3" text-anchor="end" font-weight="normal" font-style="normal" fill="#000" >0</text>
<line x1="91.6" y1="536.10" x2="247.0" y2="536.10" stroke="#808080" stroke-width="1.5"/>
<line x1="88.2" y1="536.10" x2="91.6" y2="536.10" stroke="#808080" stroke-width="1.5"/>
<text transform="translate(80.20,540.40)" font-size="12.3" text-anchor="end" font-weight="normal" font-style="normal" fill="#000" >5</text>
<line x1="91.6" y1="521.20" x2="247.0" y2="521.20" stroke="#808080" stroke-width="1.5"/>
<line x1="88.2" y1="521.20" x2="91.6" y2="521.20" stroke="#808080" stroke-width="1.5"/>
<text transform="translate(80.20,525.50)" font-size="12.3" text-anchor="end" font-weight="normal" font-style="normal" fill="#000" >10</text>
<line x1="91.6" y1="506.30" x2="247.0" y2="506.30" stroke="#808080" stroke-width="1.5"/>
<line x1="88.2" y1="506.30" x2="91.6" y2="506.30" stroke="#808080" stroke-width="1.5"/>
<text transform="translate(80.20,510.60)" font-size="12.3" text-anchor="end" font-weight="normal" font-style="normal" fill="#000" >15</text>
<line x1="91.6" y1="491.40" x2="247.0" y2="491.40" stroke="#808080" stroke-width="1.5"/>
<line x1="88.2" y1="491.40" x2="91.6" y2="491.40" stroke="#808080" stroke-width="1.5"/>
<text transform="translate(80.20,495.70)" font-size="12.3" text-anchor="end" font-weight="normal" font-style="normal" fill="#000" >20</text>
<line x1="91.6" y1="476.50" x2="247.0" y2="476.50" stroke="#808080" stroke-width="1.5"/>
<line x1="88.2" y1="476.50" x2="91.6" y2="476.50" stroke="#808080" stroke-width="1.5"/>
<text transform="translate(80.20,480.80)" font-size="12.3" text-anchor="end" font-weight="normal" font-style="normal" fill="#000" >25</text>
<line x1="91.6" y1="461.60" x2="247.0" y2="461.60" stroke="#808080" stroke-width="1.5"/>
<line x1="88.2" y1="461.60" x2="91.6" y2="461.60" stroke="#808080" stroke-width="1.5"/>
<text transform="translate(80.20,465.90)" font-size="12.3" text-anchor="end" font-weight="normal" font-style="normal" fill="#000" >30</text>
<line x1="91.6" y1="460.85" x2="91.6" y2="551.75" stroke="#808080" stroke-width="1.5"/>
<line x1="90.85" y1="551.00" x2="247.0" y2="551.00" stroke="#808080" stroke-width="1.5"/>
<line x1="91.60" y1="551.00" x2="91.60" y2="554.50" stroke="#808080" stroke-width="1.5"/>
<line x1="130.45" y1="551.00" x2="130.45" y2="554.50" stroke="#808080" stroke-width="1.5"/>
<line x1="169.30" y1="551.00" x2="169.30" y2="554.50" stroke="#808080" stroke-width="1.5"/>
<line x1="208.15" y1="551.00" x2="208.15" y2="554.50" stroke="#808080" stroke-width="1.5"/>
<line x1="247.00" y1="551.00" x2="247.00" y2="554.50" stroke="#808080" stroke-width="1.5"/>
<text transform="translate(111.02,567.90)" font-size="12.3" text-anchor="middle" font-weight="normal" font-style="normal" fill="#000" >0</text>
<text transform="translate(149.88,567.90)" font-size="12.3" text-anchor="middle" font-weight="normal" font-style="normal" fill="#000" >1</text>
<text transform="translate(188.72,567.90)" font-size="12.3" text-anchor="middle" font-weight="normal" font-style="normal" fill="#000" >2</text>
<text transform="translate(227.57,567.90)" font-size="12.3" text-anchor="middle" font-weight="normal" font-style="normal" fill="#000" >3</text>
<text transform="translate(97.50,473.20)" font-size="12" text-anchor="start" font-weight="normal" font-style="normal" fill="#000" ><tspan font-style="italic">P</tspan>&lt;.01</text>
<path d="M111.82,542.06V545.04M108.32,542.06h7M108.32,545.04h7" stroke="#000" stroke-width="1.3" fill="none"/>
<path d="M150.68,531.03V536.99M147.18,531.03h7M147.18,536.99h7" stroke="#000" stroke-width="1.3" fill="none"/>
<path d="M189.53,475.31V499.15M186.03,475.31h7M186.03,499.15h7" stroke="#000" stroke-width="1.3" fill="none"/>
<path d="M228.38,490.80V532.52M224.88,490.80h7M224.88,532.52h7" stroke="#000" stroke-width="1.3" fill="none"/>
<path d="M111.82,542.66V544.44M108.32,542.66h7M108.32,544.44h7" stroke="#000" stroke-width="1.3" fill="none"/>
<path d="M150.68,538.19V542.95M147.18,538.19h7M147.18,542.95h7" stroke="#000" stroke-width="1.3" fill="none"/>
<path d="M189.53,537.29V545.04M186.03,537.29h7M186.03,545.04h7" stroke="#000" stroke-width="1.3" fill="none"/>
<path d="M228.38,545.64V548.02M224.88,545.64h7M224.88,548.02h7" stroke="#000" stroke-width="1.3" fill="none"/>
<polyline points="111.82,543.55 150.68,540.57 189.53,541.17 228.38,546.83" fill="none" stroke="#000" stroke-width="3.5" stroke-dasharray="7.5,4"/>
<polyline points="111.82,543.55 150.68,534.01 189.53,487.23 228.38,511.66" fill="none" stroke="#000" stroke-width="5.0" stroke-linejoin="round"/>
<path d="M111.82,537.55L117.82,543.55L111.82,549.55L105.82,543.55Z" fill="#000"/>
<path d="M150.68,528.01L156.68,534.01L150.68,540.01L144.68,534.01Z" fill="#000"/>
<path d="M189.53,481.23L195.53,487.23L189.53,493.23L183.53,487.23Z" fill="#000"/>
<path d="M228.38,505.66L234.38,511.66L228.38,517.66L222.38,511.66Z" fill="#000"/>
<circle cx="111.82" cy="543.55" r="3.3" fill="#fff" stroke="#000" stroke-width="1.8"/>
<circle cx="150.68" cy="540.57" r="3.3" fill="#fff" stroke="#000" stroke-width="1.8"/>
<circle cx="189.53" cy="541.17" r="3.3" fill="#fff" stroke="#000" stroke-width="1.8"/>
<circle cx="228.38" cy="546.83" r="3.3" fill="#fff" stroke="#000" stroke-width="1.8"/>
<text transform="translate(280.00,514.45) rotate(-90) scale(0.907,1)" font-size="14.5" text-anchor="middle" font-weight="normal" font-style="normal" fill="#000" >SBC x 10<tspan font-size="10.5" dy="-5.8">6</tspan></text>
<line x1="320.0" y1="568.50" x2="402.3" y2="568.50" stroke="#808080" stroke-width="1.5"/>
<text transform="translate(311.50,573.00)" font-size="12.5" text-anchor="end" font-weight="normal" font-style="normal" fill="#000" >0</text>
<line x1="320.0" y1="541.48" x2="402.3" y2="541.48" stroke="#808080" stroke-width="1.5"/>
<text transform="translate(311.50,545.98)" font-size="12.5" text-anchor="end" font-weight="normal" font-style="normal" fill="#000" >100</text>
<line x1="320.0" y1="514.45" x2="402.3" y2="514.45" stroke="#808080" stroke-width="1.5"/>
<text transform="translate(311.50,518.95)" font-size="12.5" text-anchor="end" font-weight="normal" font-style="normal" fill="#000" >200</text>
<line x1="320.0" y1="487.42" x2="402.3" y2="487.42" stroke="#808080" stroke-width="1.5"/>
<text transform="translate(311.50,491.92)" font-size="12.5" text-anchor="end" font-weight="normal" font-style="normal" fill="#000" >300</text>
<line x1="320.0" y1="460.40" x2="402.3" y2="460.40" stroke="#808080" stroke-width="1.5"/>
<text transform="translate(311.50,464.90)" font-size="12.5" text-anchor="end" font-weight="normal" font-style="normal" fill="#000" >400</text>
<line x1="322.0" y1="459.65" x2="322.0" y2="569.25" stroke="#808080" stroke-width="1.5"/>
<rect x="339.8" y="482.56" width="22.5" height="85.94" fill="#000"/>
<path d="M351.0,470.67V482.56M347.5,470.67h7" stroke="#000" stroke-width="1.3"/>
<rect x="363.0" y="531.21" width="22.0" height="36.59" fill="#fff" stroke="#000" stroke-width="1.5"/>
<path d="M374.0,515.80V531.21M370.5,515.80h7" stroke="#000" stroke-width="1.3"/>
<text transform="translate(350.80,469.50)" font-size="12.5" text-anchor="middle" font-weight="normal" font-style="normal" fill="#000" >5</text>
<text transform="translate(374.00,510.00)" font-size="12.5" text-anchor="middle" font-weight="normal" font-style="normal" fill="#000" >5</text>
<text transform="translate(369.50,478.40)" font-size="12" text-anchor="start" font-weight="normal" font-style="normal" fill="#000" ><tspan font-style="italic">P</tspan>&lt;.01</text>
<clipPath id="cp3_0"><rect x="462" y="461.00" width="54" height="35.70"/></clipPath>
<rect x="462" y="461.00" width="54" height="35.70" fill="#c9c9c9"/>
<text transform="translate(449.00,483.15)" font-size="13.2" text-anchor="end" font-weight="normal" font-style="normal" fill="#000" >pS6</text>
<rect x="465.40" y="475.60" width="20.80" height="5.80" rx="2.9" fill="rgb(28,28,28)" filter="url(#f0)" clip-path="url(#cp3_0)"/>
<rect x="493.00" y="475.60" width="18.50" height="5.80" rx="2.9" fill="rgb(30,30,30)" filter="url(#f0)" clip-path="url(#cp3_0)"/>
<clipPath id="cp3_1"><rect x="462" y="499.00" width="54" height="34.50"/></clipPath>
<rect x="462" y="499.00" width="54" height="34.50" fill="#c9c9c9"/>
<text transform="translate(449.00,520.55)" font-size="13.2" text-anchor="end" font-weight="normal" font-style="normal" fill="#000" >S6</text>
<rect x="465.00" y="505.50" width="21.00" height="8.00" rx="4.0" fill="rgb(125,125,125)" filter="url(#f5)" clip-path="url(#cp3_1)"/>
<rect x="494.00" y="505.50" width="20.00" height="8.00" rx="4.0" fill="rgb(135,135,135)" filter="url(#f5)" clip-path="url(#cp3_1)"/>
<rect x="463.00" y="519.40" width="23.00" height="5.00" rx="2.5" fill="rgb(40,40,40)" filter="url(#f0)" clip-path="url(#cp3_1)"/>
<rect x="493.00" y="519.40" width="22.00" height="5.00" rx="2.5" fill="rgb(40,40,40)" filter="url(#f0)" clip-path="url(#cp3_1)"/>
<clipPath id="cp3_2"><rect x="462" y="536.20" width="54" height="34.40"/></clipPath>
<rect x="462" y="536.20" width="54" height="34.40" fill="#c9c9c9"/>
<text transform="translate(448.60,557.70) scale(0.88,1)" font-size="14" text-anchor="end" font-weight="normal" font-style="normal" fill="#000" >actin</text>
<rect x="462.50" y="550.00" width="25.50" height="9.00" rx="4.5" fill="rgb(45,45,45)" filter="url(#f0)" clip-path="url(#cp3_2)"/>
<rect x="491.00" y="550.00" width="24.00" height="9.00" rx="4.5" fill="rgb(50,50,50)" filter="url(#f0)" clip-path="url(#cp3_2)"/>
<text transform="translate(19.40,639.70) rotate(-90) scale(0.917,1)" font-size="16" text-anchor="middle" font-weight="normal" font-style="normal" fill="#000" >V. <tspan font-style="italic">JAK1</tspan><tspan font-size="10.5" dy="4.1">m</tspan></text>
<line x1="31.1" y1="589.8" x2="31.1" y2="700.0" stroke="#000" stroke-width="2"/>
<text transform="translate(52.80,639.30) rotate(-90) scale(0.9,1)" font-size="15" text-anchor="middle" font-weight="normal" font-style="normal" fill="#000" >PBC x 10<tspan font-size="10" dy="-5.2">3</tspan><tspan dy="5.2">/µL</tspan></text>
<line x1="88.2" y1="684.80" x2="91.6" y2="684.80" stroke="#808080" stroke-width="1.5"/>
<text transform="translate(80.20,689.10)" font-size="12.3" text-anchor="end" font-weight="normal" font-style="normal" fill="#000" >0.0</text>
<line x1="91.6" y1="662.45" x2="247.0" y2="662.45" stroke="#808080" stroke-width="1.5"/>
<line x1="88.2" y1="662.45" x2="91.6" y2="662.45" stroke="#808080" stroke-width="1.5"/>
<text transform="translate(80.20,666.75)" font-size="12.3" text-anchor="end" font-weight="normal" font-style="normal" fill="#000" >2.0</text>
<line x1="91.6" y1="640.10" x2="247.0" y2="640.10" stroke="#808080" stroke-width="1.5"/>
<line x1="88.2" y1="640.10" x2="91.6" y2="640.10" stroke="#808080" stroke-width="1.5"/>
<text transform="translate(80.20,644.40)" font-size="12.3" text-anchor="end" font-weight="normal" font-style="normal" fill="#000" >4.0</text>
<line x1="91.6" y1="617.75" x2="247.0" y2="617.75" stroke="#808080" stroke-width="1.5"/>
<line x1="88.2" y1="617.75" x2="91.6" y2="617.75" stroke="#808080" stroke-width="1.5"/>
<text transform="translate(80.20,622.05)" font-size="12.3" text-anchor="end" font-weight="normal" font-style="normal" fill="#000" >6.0</text>
<line x1="91.6" y1="595.40" x2="247.0" y2="595.40" stroke="#808080" stroke-width="1.5"/>
<line x1="88.2" y1="595.40" x2="91.6" y2="595.40" stroke="#808080" stroke-width="1.5"/>
<text transform="translate(80.20,599.70)" font-size="12.3" text-anchor="end" font-weight="normal" font-style="normal" fill="#000" >8.0</text>
<line x1="91.6" y1="594.65" x2="91.6" y2="685.55" stroke="#808080" stroke-width="1.5"/>
<line x1="90.85" y1="684.80" x2="247.0" y2="684.80" stroke="#808080" stroke-width="1.5"/>
<line x1="91.60" y1="684.80" x2="91.60" y2="688.30" stroke="#808080" stroke-width="1.5"/>
<line x1="130.45" y1="684.80" x2="130.45" y2="688.30" stroke="#808080" stroke-width="1.5"/>
<line x1="169.30" y1="684.80" x2="169.30" y2="688.30" stroke="#808080" stroke-width="1.5"/>
<line x1="208.15" y1="684.80" x2="208.15" y2="688.30" stroke="#808080" stroke-width="1.5"/>
<line x1="247.00" y1="684.80" x2="247.00" y2="688.30" stroke="#808080" stroke-width="1.5"/>
<text transform="translate(111.02,701.70)" font-size="12.3" text-anchor="middle" font-weight="normal" font-style="normal" fill="#000" >0</text>
<text transform="translate(149.88,701.70)" font-size="12.3" text-anchor="middle" font-weight="normal" font-style="normal" fill="#000" >1</text>
<text transform="translate(188.72,701.70)" font-size="12.3" text-anchor="middle" font-weight="normal" font-style="normal" fill="#000" >2</text>
<text transform="translate(227.57,701.70)" font-size="12.3" text-anchor="middle" font-weight="normal" font-style="normal" fill="#000" >3</text>
<text transform="translate(97.50,607.00)" font-size="12" text-anchor="start" font-weight="normal" font-style="normal" fill="#000" ><tspan font-style="italic">P</tspan>&lt;.01</text>
<path d="M111.82,682.56V683.68M108.32,682.56h7M108.32,683.68h7" stroke="#000" stroke-width="1.3" fill="none"/>
<path d="M150.68,674.74V679.21M147.18,674.74h7M147.18,679.21h7" stroke="#000" stroke-width="1.3" fill="none"/>
<path d="M189.53,667.26V673.96M186.03,667.26h7M186.03,673.96h7" stroke="#000" stroke-width="1.3" fill="none"/>
<path d="M228.38,600.32V656.19M224.88,600.32h7M224.88,656.19h7" stroke="#000" stroke-width="1.3" fill="none"/>
<path d="M111.82,682.56V683.68M108.32,682.56h7M108.32,683.68h7" stroke="#000" stroke-width="1.3" fill="none"/>
<path d="M150.68,678.77V681.00M147.18,678.77h7M147.18,681.00h7" stroke="#000" stroke-width="1.3" fill="none"/>
<path d="M189.53,676.42V678.65M186.03,676.42h7M186.03,678.65h7" stroke="#000" stroke-width="1.3" fill="none"/>
<path d="M228.38,666.25V668.48M224.88,666.25h7M224.88,668.48h7" stroke="#000" stroke-width="1.3" fill="none"/>
<polyline points="111.82,683.12 150.68,679.88 189.53,677.54 228.38,667.37" fill="none" stroke="#000" stroke-width="3.5" stroke-dasharray="7.5,4"/>
<polyline points="111.82,683.12 150.68,676.98 189.53,670.61 228.38,628.25" fill="none" stroke="#000" stroke-width="5.0" stroke-linejoin="round"/>
<path d="M111.82,677.12L117.82,683.12L111.82,689.12L105.82,683.12Z" fill="#000"/>
<path d="M150.68,670.98L156.68,676.98L150.68,682.98L144.68,676.98Z" fill="#000"/>
<path d="M189.53,664.61L195.53,670.61L189.53,676.61L183.53,670.61Z" fill="#000"/>
<path d="M228.38,622.25L234.38,628.25L228.38,634.25L222.38,628.25Z" fill="#000"/>
<circle cx="111.82" cy="683.12" r="3.3" fill="#fff" stroke="#000" stroke-width="1.8"/>
<circle cx="150.68" cy="679.88" r="3.3" fill="#fff" stroke="#000" stroke-width="1.8"/>
<circle cx="189.53" cy="677.54" r="3.3" fill="#fff" stroke="#000" stroke-width="1.8"/>
<circle cx="228.38" cy="667.37" r="3.3" fill="#fff" stroke="#000" stroke-width="1.8"/>
<text transform="translate(280.00,648.25) rotate(-90) scale(0.907,1)" font-size="14.5" text-anchor="middle" font-weight="normal" font-style="normal" fill="#000" >SBC x 10<tspan font-size="10.5" dy="-5.8">6</tspan></text>
<line x1="320.0" y1="702.30" x2="402.3" y2="702.30" stroke="#808080" stroke-width="1.5"/>
<text transform="translate(311.50,706.80)" font-size="12.5" text-anchor="end" font-weight="normal" font-style="normal" fill="#000" >0</text>
<line x1="320.0" y1="675.28" x2="402.3" y2="675.28" stroke="#808080" stroke-width="1.5"/>
<text transform="translate(311.50,679.78)" font-size="12.5" text-anchor="end" font-weight="normal" font-style="normal" fill="#000" >50</text>
<line x1="320.0" y1="648.25" x2="402.3" y2="648.25" stroke="#808080" stroke-width="1.5"/>
<text transform="translate(311.50,652.75)" font-size="12.5" text-anchor="end" font-weight="normal" font-style="normal" fill="#000" >100</text>
<line x1="320.0" y1="621.23" x2="402.3" y2="621.23" stroke="#808080" stroke-width="1.5"/>
<text transform="translate(311.50,625.73)" font-size="12.5" text-anchor="end" font-weight="normal" font-style="normal" fill="#000" >150</text>
<line x1="320.0" y1="594.20" x2="402.3" y2="594.20" stroke="#808080" stroke-width="1.5"/>
<text transform="translate(311.50,598.70)" font-size="12.5" text-anchor="end" font-weight="normal" font-style="normal" fill="#000" >200</text>
<line x1="322.0" y1="593.45" x2="322.0" y2="703.05" stroke="#808080" stroke-width="1.5"/>
<rect x="339.8" y="626.63" width="22.5" height="75.67" fill="#000"/>
<path d="M351.0,610.42V626.63M347.5,610.42h7" stroke="#000" stroke-width="1.3"/>
<rect x="363.0" y="660.14" width="22.0" height="41.46" fill="#fff" stroke="#000" stroke-width="1.5"/>
<path d="M374.0,652.03V660.14M370.5,652.03h7" stroke="#000" stroke-width="1.3"/>
<text transform="translate(350.80,606.00)" font-size="12.5" text-anchor="middle" font-weight="normal" font-style="normal" fill="#000" >5</text>
<text transform="translate(374.00,644.90)" font-size="12.5" text-anchor="middle" font-weight="normal" font-style="normal" fill="#000" >5</text>
<text transform="translate(369.50,612.20)" font-size="12" text-anchor="start" font-weight="normal" font-style="normal" fill="#000" ><tspan font-style="italic">P</tspan>&lt;.01</text>
<clipPath id="cp4_0"><rect x="462" y="595.00" width="54" height="35.70"/></clipPath>
<rect x="462" y="595.00" width="54" height="35.70" fill="#c9c9c9"/>
<text transform="translate(449.00,617.15)" font-size="13.2" text-anchor="end" font-weight="normal" font-style="normal" fill="#000" >pS6</text>
<rect x="465.40" y="610.75" width="20.00" height="5.50" rx="2.8" fill="rgb(45,45,45)" filter="url(#f0)" clip-path="url(#cp4_0)"/>
<rect x="492.00" y="610.75" width="20.00" height="5.50" rx="2.8" fill="rgb(45,45,45)" filter="url(#f0)" clip-path="url(#cp4_0)"/>
<clipPath id="cp4_1"><rect x="462" y="633.00" width="54" height="34.50"/></clipPath>
<rect x="462" y="633.00" width="54" height="34.50" fill="#c9c9c9"/>
<text transform="translate(449.00,654.55)" font-size="13.2" text-anchor="end" font-weight="normal" font-style="normal" fill="#000" >S6</text>
<rect x="466.00" y="646.70" width="20.00" height="5.00" rx="2.5" fill="rgb(70,70,70)" filter="url(#f0)" clip-path="url(#cp4_1)"/>
<rect x="495.00" y="646.70" width="7.00" height="5.00" rx="2.5" fill="rgb(75,75,75)" filter="url(#f0)" clip-path="url(#cp4_1)"/>
<rect x="505.00" y="646.70" width="7.00" height="5.00" rx="2.5" fill="rgb(70,70,70)" filter="url(#f0)" clip-path="url(#cp4_1)"/>
<clipPath id="cp4_2"><rect x="462" y="670.20" width="54" height="34.40"/></clipPath>
<rect x="462" y="670.20" width="54" height="34.40" fill="#c9c9c9"/>
<text transform="translate(448.60,691.70) scale(0.88,1)" font-size="14" text-anchor="end" font-weight="normal" font-style="normal" fill="#000" >actin</text>
<rect x="462.30" y="681.50" width="24.70" height="10.00" rx="5.0" fill="rgb(28,28,28)" filter="url(#f0)" clip-path="url(#cp4_2)"/>
<rect x="490.00" y="682.00" width="25.60" height="9.00" rx="4.5" fill="rgb(35,35,35)" filter="url(#f0)" clip-path="url(#cp4_2)"/>
<text transform="translate(19.40,774.50) rotate(-90) scale(0.917,1)" font-size="16" text-anchor="middle" font-weight="normal" font-style="normal" fill="#000" >VI. <tspan font-style="italic">CRLF2</tspan><tspan font-size="10.5" dy="4.1">R</tspan></text>
<line x1="31.1" y1="724.6" x2="31.1" y2="835.4" stroke="#000" stroke-width="2"/>
<text transform="translate(52.80,773.00) rotate(-90) scale(0.9,1)" font-size="15" text-anchor="middle" font-weight="normal" font-style="normal" fill="#000" >PBC x 10<tspan font-size="10" dy="-5.2">3</tspan><tspan dy="5.2">/µL</tspan></text>
<line x1="88.2" y1="818.50" x2="91.6" y2="818.50" stroke="#808080" stroke-width="1.5"/>
<text transform="translate(80.20,822.80)" font-size="12.3" text-anchor="end" font-weight="normal" font-style="normal" fill="#000" >0</text>
<line x1="91.6" y1="800.62" x2="247.0" y2="800.62" stroke="#808080" stroke-width="1.5"/>
<line x1="88.2" y1="800.62" x2="91.6" y2="800.62" stroke="#808080" stroke-width="1.5"/>
<text transform="translate(80.20,804.92)" font-size="12.3" text-anchor="end" font-weight="normal" font-style="normal" fill="#000" >5</text>
<line x1="91.6" y1="782.74" x2="247.0" y2="782.74" stroke="#808080" stroke-width="1.5"/>
<line x1="88.2" y1="782.74" x2="91.6" y2="782.74" stroke="#808080" stroke-width="1.5"/>
<text transform="translate(80.20,787.04)" font-size="12.3" text-anchor="end" font-weight="normal" font-style="normal" fill="#000" >10</text>
<line x1="91.6" y1="764.86" x2="247.0" y2="764.86" stroke="#808080" stroke-width="1.5"/>
<line x1="88.2" y1="764.86" x2="91.6" y2="764.86" stroke="#808080" stroke-width="1.5"/>
<text transform="translate(80.20,769.16)" font-size="12.3" text-anchor="end" font-weight="normal" font-style="normal" fill="#000" >15</text>
<line x1="91.6" y1="746.98" x2="247.0" y2="746.98" stroke="#808080" stroke-width="1.5"/>
<line x1="88.2" y1="746.98" x2="91.6" y2="746.98" stroke="#808080" stroke-width="1.5"/>
<text transform="translate(80.20,751.28)" font-size="12.3" text-anchor="end" font-weight="normal" font-style="normal" fill="#000" >20</text>
<line x1="91.6" y1="729.10" x2="247.0" y2="729.10" stroke="#808080" stroke-width="1.5"/>
<line x1="88.2" y1="729.10" x2="91.6" y2="729.10" stroke="#808080" stroke-width="1.5"/>
<text transform="translate(80.20,733.40)" font-size="12.3" text-anchor="end" font-weight="normal" font-style="normal" fill="#000" >25</text>
<line x1="91.6" y1="728.35" x2="91.6" y2="819.25" stroke="#808080" stroke-width="1.5"/>
<line x1="90.85" y1="818.50" x2="247.0" y2="818.50" stroke="#808080" stroke-width="1.5"/>
<line x1="91.60" y1="818.50" x2="91.60" y2="822.00" stroke="#808080" stroke-width="1.5"/>
<line x1="122.68" y1="818.50" x2="122.68" y2="822.00" stroke="#808080" stroke-width="1.5"/>
<line x1="153.76" y1="818.50" x2="153.76" y2="822.00" stroke="#808080" stroke-width="1.5"/>
<line x1="184.84" y1="818.50" x2="184.84" y2="822.00" stroke="#808080" stroke-width="1.5"/>
<line x1="215.92" y1="818.50" x2="215.92" y2="822.00" stroke="#808080" stroke-width="1.5"/>
<line x1="247.00" y1="818.50" x2="247.00" y2="822.00" stroke="#808080" stroke-width="1.5"/>
<text transform="translate(107.14,835.40)" font-size="12.3" text-anchor="middle" font-weight="normal" font-style="normal" fill="#000" >0</text>
<text transform="translate(138.22,835.40)" font-size="12.3" text-anchor="middle" font-weight="normal" font-style="normal" fill="#000" >1</text>
<text transform="translate(169.30,835.40)" font-size="12.3" text-anchor="middle" font-weight="normal" font-style="normal" fill="#000" >2</text>
<text transform="translate(200.38,835.40)" font-size="12.3" text-anchor="middle" font-weight="normal" font-style="normal" fill="#000" >3</text>
<text transform="translate(231.46,835.40)" font-size="12.3" text-anchor="middle" font-weight="normal" font-style="normal" fill="#000" >4</text>
<text transform="translate(97.50,740.70)" font-size="12" text-anchor="start" font-weight="normal" font-style="normal" fill="#000" ><tspan font-style="italic">P</tspan>&lt;.01</text>
<path d="M107.94,814.21V816.35M104.44,814.21h7M104.44,816.35h7" stroke="#000" stroke-width="1.3" fill="none"/>
<path d="M139.02,799.90V810.63M135.52,799.90h7M135.52,810.63h7" stroke="#000" stroke-width="1.3" fill="none"/>
<path d="M170.10,759.14V792.04M166.60,759.14h7M166.60,792.04h7" stroke="#000" stroke-width="1.3" fill="none"/>
<path d="M201.18,754.85V796.33M197.68,754.85h7M197.68,796.33h7" stroke="#000" stroke-width="1.3" fill="none"/>
<path d="M232.26,744.48V775.23M228.76,744.48h7M228.76,775.23h7" stroke="#000" stroke-width="1.3" fill="none"/>
<path d="M107.94,814.21V816.35M104.44,814.21h7M104.44,816.35h7" stroke="#000" stroke-width="1.3" fill="none"/>
<path d="M139.02,804.20V807.77M135.52,804.20h7M135.52,807.77h7" stroke="#000" stroke-width="1.3" fill="none"/>
<path d="M170.10,779.16V800.62M166.60,779.16h7M166.60,800.62h7" stroke="#000" stroke-width="1.3" fill="none"/>
<path d="M201.18,793.47V804.20M197.68,793.47h7M197.68,804.20h7" stroke="#000" stroke-width="1.3" fill="none"/>
<path d="M232.26,791.68V805.98M228.76,791.68h7M228.76,805.98h7" stroke="#000" stroke-width="1.3" fill="none"/>
<polyline points="107.94,815.28 139.02,805.98 170.10,789.89 201.18,798.83 232.26,798.83" fill="none" stroke="#000" stroke-width="3.5" stroke-dasharray="7.5,4"/>
<polyline points="107.94,815.28 139.02,805.27 170.10,775.59 201.18,775.59 232.26,759.85" fill="none" stroke="#000" stroke-width="5.0" stroke-linejoin="round"/>
<path d="M107.94,809.28L113.94,815.28L107.94,821.28L101.94,815.28Z" fill="#000"/>
<path d="M139.02,799.27L145.02,805.27L139.02,811.27L133.02,805.27Z" fill="#000"/>
<path d="M170.10,769.59L176.10,775.59L170.10,781.59L164.10,775.59Z" fill="#000"/>
<path d="M201.18,769.59L207.18,775.59L201.18,781.59L195.18,775.59Z" fill="#000"/>
<path d="M232.26,753.85L238.26,759.85L232.26,765.85L226.26,759.85Z" fill="#000"/>
<circle cx="107.94" cy="815.28" r="3.3" fill="#fff" stroke="#000" stroke-width="1.8"/>
<circle cx="139.02" cy="805.98" r="3.3" fill="#fff" stroke="#000" stroke-width="1.8"/>
<circle cx="170.10" cy="789.89" r="3.3" fill="#fff" stroke="#000" stroke-width="1.8"/>
<circle cx="201.18" cy="798.83" r="3.3" fill="#fff" stroke="#000" stroke-width="1.8"/>
<circle cx="232.26" cy="798.83" r="3.3" fill="#fff" stroke="#000" stroke-width="1.8"/>
<text transform="translate(280.00,782.05) rotate(-90) scale(0.907,1)" font-size="14.5" text-anchor="middle" font-weight="normal" font-style="normal" fill="#000" >SBC x 10<tspan font-size="10.5" dy="-5.8">6</tspan></text>
<line x1="320.0" y1="836.10" x2="402.3" y2="836.10" stroke="#808080" stroke-width="1.5"/>
<text transform="translate(311.50,840.60)" font-size="12.5" text-anchor="end" font-weight="normal" font-style="normal" fill="#000" >0</text>
<line x1="320.0" y1="814.48" x2="402.3" y2="814.48" stroke="#808080" stroke-width="1.5"/>
<text transform="translate(311.50,818.98)" font-size="12.5" text-anchor="end" font-weight="normal" font-style="normal" fill="#000" >50</text>
<line x1="320.0" y1="792.86" x2="402.3" y2="792.86" stroke="#808080" stroke-width="1.5"/>
<text transform="translate(311.50,797.36)" font-size="12.5" text-anchor="end" font-weight="normal" font-style="normal" fill="#000" >100</text>
<line x1="320.0" y1="771.24" x2="402.3" y2="771.24" stroke="#808080" stroke-width="1.5"/>
<text transform="translate(311.50,775.74)" font-size="12.5" text-anchor="end" font-weight="normal" font-style="normal" fill="#000" >150</text>
<line x1="320.0" y1="749.62" x2="402.3" y2="749.62" stroke="#808080" stroke-width="1.5"/>
<text transform="translate(311.50,754.12)" font-size="12.5" text-anchor="end" font-weight="normal" font-style="normal" fill="#000" >200</text>
<line x1="320.0" y1="728.00" x2="402.3" y2="728.00" stroke="#808080" stroke-width="1.5"/>
<text transform="translate(311.50,732.50)" font-size="12.5" text-anchor="end" font-weight="normal" font-style="normal" fill="#000" >250</text>
<line x1="322.0" y1="727.25" x2="322.0" y2="836.85" stroke="#808080" stroke-width="1.5"/>
<rect x="339.8" y="756.11" width="22.5" height="79.99" fill="#000"/>
<path d="M351.0,740.54V756.11M347.5,740.54h7" stroke="#000" stroke-width="1.3"/>
<rect x="363.0" y="776.43" width="22.0" height="58.97" fill="#fff" stroke="#000" stroke-width="1.5"/>
<path d="M374.0,769.94V776.43M370.5,769.94h7" stroke="#000" stroke-width="1.3"/>
<text transform="translate(350.80,738.00)" font-size="12.5" text-anchor="middle" font-weight="normal" font-style="normal" fill="#000" >5</text>
<text transform="translate(374.00,764.60)" font-size="12.5" text-anchor="middle" font-weight="normal" font-style="normal" fill="#000" >5</text>
<text transform="translate(369.50,746.00)" font-size="12" text-anchor="start" font-weight="normal" font-style="normal" fill="#000" ><tspan font-style="italic">P</tspan>&lt;.05</text>
<clipPath id="cp5_0"><rect x="462" y="729.20" width="54" height="35.70"/></clipPath>
<rect x="462" y="729.20" width="54" height="35.70" fill="#c9c9c9"/>
<text transform="translate(449.00,751.35)" font-size="13.2" text-anchor="end" font-weight="normal" font-style="normal" fill="#000" >pS6</text>
<rect x="465.00" y="744.50" width="21.00" height="5.00" rx="2.5" fill="rgb(28,28,28)" filter="url(#f0)" clip-path="url(#cp5_0)"/>
<rect x="495.00" y="744.50" width="19.00" height="5.00" rx="2.5" fill="rgb(30,30,30)" filter="url(#f0)" clip-path="url(#cp5_0)"/>
<clipPath id="cp5_1"><rect x="462" y="767.20" width="54" height="34.50"/></clipPath>
<rect x="462" y="767.20" width="54" height="34.50" fill="#c9c9c9"/>
<text transform="translate(449.00,788.75)" font-size="13.2" text-anchor="end" font-weight="normal" font-style="normal" fill="#000" >S6</text>
<rect x="465.00" y="771.00" width="21.00" height="14.00" rx="5.0" fill="rgb(130,130,130)" filter="url(#f1)" clip-path="url(#cp5_1)"/>
<rect x="491.00" y="771.00" width="24.00" height="14.00" rx="5.0" fill="rgb(120,120,120)" filter="url(#f1)" clip-path="url(#cp5_1)"/>
<rect x="464.00" y="782.00" width="22.00" height="5.00" rx="2.5" fill="rgb(105,105,105)" filter="url(#f4)" clip-path="url(#cp5_1)"/>
<rect x="491.00" y="782.00" width="24.00" height="5.00" rx="2.5" fill="rgb(100,100,100)" filter="url(#f4)" clip-path="url(#cp5_1)"/>
<clipPath id="cp5_2"><rect x="462" y="804.40" width="54" height="34.40"/></clipPath>
<rect x="462" y="804.40" width="54" height="34.40" fill="#c9c9c9"/>
<text transform="translate(448.60,825.90) scale(0.88,1)" font-size="14" text-anchor="end" font-weight="normal" font-style="normal" fill="#000" >actin</text>
<rect x="464.00" y="815.90" width="25.00" height="9.00" rx="4.5" fill="rgb(45,45,45)" filter="url(#f0)" clip-path="url(#cp5_2)"/>
<rect x="492.00" y="815.90" width="23.40" height="9.00" rx="4.5" fill="rgb(45,45,45)" filter="url(#f0)" clip-path="url(#cp5_2)"/>
<text transform="translate(19.40,915.45) rotate(-90) scale(0.878,1)" font-size="16" text-anchor="middle" font-weight="normal" font-style="normal" fill="#000" >VII. <tspan font-style="italic">BCR-JAK2</tspan></text>
<line x1="31.1" y1="857.5" x2="31.1" y2="967.7" stroke="#000" stroke-width="2"/>
<text transform="translate(52.80,906.70) rotate(-90) scale(0.9,1)" font-size="15" text-anchor="middle" font-weight="normal" font-style="normal" fill="#000" >PBC x 10<tspan font-size="10" dy="-5.2">3</tspan><tspan dy="5.2">/µL</tspan></text>
<line x1="88.2" y1="952.20" x2="91.6" y2="952.20" stroke="#808080" stroke-width="1.5"/>
<text transform="translate(80.20,956.50)" font-size="12.3" text-anchor="end" font-weight="normal" font-style="normal" fill="#000" >0</text>
<line x1="91.6" y1="939.43" x2="247.0" y2="939.43" stroke="#808080" stroke-width="1.5"/>
<line x1="88.2" y1="939.43" x2="91.6" y2="939.43" stroke="#808080" stroke-width="1.5"/>
<text transform="translate(80.20,943.73)" font-size="12.3" text-anchor="end" font-weight="normal" font-style="normal" fill="#000" >5</text>
<line x1="91.6" y1="926.66" x2="247.0" y2="926.66" stroke="#808080" stroke-width="1.5"/>
<line x1="88.2" y1="926.66" x2="91.6" y2="926.66" stroke="#808080" stroke-width="1.5"/>
<text transform="translate(80.20,930.96)" font-size="12.3" text-anchor="end" font-weight="normal" font-style="normal" fill="#000" >10</text>
<line x1="91.6" y1="913.89" x2="247.0" y2="913.89" stroke="#808080" stroke-width="1.5"/>
<line x1="88.2" y1="913.89" x2="91.6" y2="913.89" stroke="#808080" stroke-width="1.5"/>
<text transform="translate(80.20,918.19)" font-size="12.3" text-anchor="end" font-weight="normal" font-style="normal" fill="#000" >15</text>
<line x1="91.6" y1="901.11" x2="247.0" y2="901.11" stroke="#808080" stroke-width="1.5"/>
<line x1="88.2" y1="901.11" x2="91.6" y2="901.11" stroke="#808080" stroke-width="1.5"/>
<text transform="translate(80.20,905.41)" font-size="12.3" text-anchor="end" font-weight="normal" font-style="normal" fill="#000" >20</text>
<line x1="91.6" y1="888.34" x2="247.0" y2="888.34" stroke="#808080" stroke-width="1.5"/>
<line x1="88.2" y1="888.34" x2="91.6" y2="888.34" stroke="#808080" stroke-width="1.5"/>
<text transform="translate(80.20,892.64)" font-size="12.3" text-anchor="end" font-weight="normal" font-style="normal" fill="#000" >25</text>
<line x1="91.6" y1="875.57" x2="247.0" y2="875.57" stroke="#808080" stroke-width="1.5"/>
<line x1="88.2" y1="875.57" x2="91.6" y2="875.57" stroke="#808080" stroke-width="1.5"/>
<text transform="translate(80.20,879.87)" font-size="12.3" text-anchor="end" font-weight="normal" font-style="normal" fill="#000" >30</text>
<line x1="91.6" y1="862.80" x2="247.0" y2="862.80" stroke="#808080" stroke-width="1.5"/>
<line x1="88.2" y1="862.80" x2="91.6" y2="862.80" stroke="#808080" stroke-width="1.5"/>
<text transform="translate(80.20,867.10)" font-size="12.3" text-anchor="end" font-weight="normal" font-style="normal" fill="#000" >35</text>
<line x1="91.6" y1="862.05" x2="91.6" y2="952.95" stroke="#808080" stroke-width="1.5"/>
<line x1="90.85" y1="952.20" x2="247.0" y2="952.20" stroke="#808080" stroke-width="1.5"/>
<line x1="91.60" y1="952.20" x2="91.60" y2="955.70" stroke="#808080" stroke-width="1.5"/>
<line x1="122.68" y1="952.20" x2="122.68" y2="955.70" stroke="#808080" stroke-width="1.5"/>
<line x1="153.76" y1="952.20" x2="153.76" y2="955.70" stroke="#808080" stroke-width="1.5"/>
<line x1="184.84" y1="952.20" x2="184.84" y2="955.70" stroke="#808080" stroke-width="1.5"/>
<line x1="215.92" y1="952.20" x2="215.92" y2="955.70" stroke="#808080" stroke-width="1.5"/>
<line x1="247.00" y1="952.20" x2="247.00" y2="955.70" stroke="#808080" stroke-width="1.5"/>
<text transform="translate(107.14,969.10)" font-size="12.3" text-anchor="middle" font-weight="normal" font-style="normal" fill="#000" >0</text>
<text transform="translate(138.22,969.10)" font-size="12.3" text-anchor="middle" font-weight="normal" font-style="normal" fill="#000" >1</text>
<text transform="translate(169.30,969.10)" font-size="12.3" text-anchor="middle" font-weight="normal" font-style="normal" fill="#000" >2</text>
<text transform="translate(200.38,969.10)" font-size="12.3" text-anchor="middle" font-weight="normal" font-style="normal" fill="#000" >3</text>
<text transform="translate(231.46,969.10)" font-size="12.3" text-anchor="middle" font-weight="normal" font-style="normal" fill="#000" >4</text>
<text transform="translate(97.50,874.40)" font-size="12" text-anchor="start" font-weight="normal" font-style="normal" fill="#000" ><tspan font-style="italic">P</tspan>&lt;.01</text>
<path d="M107.94,951.43V951.94M104.44,951.43h7M104.44,951.94h7" stroke="#000" stroke-width="1.3" fill="none"/>
<path d="M139.02,947.60V950.16M135.52,947.60h7M135.52,950.16h7" stroke="#000" stroke-width="1.3" fill="none"/>
<path d="M170.10,940.71V945.81M166.60,940.71h7M166.60,945.81h7" stroke="#000" stroke-width="1.3" fill="none"/>
<path d="M201.18,926.66V947.09M197.68,926.66h7M197.68,947.09h7" stroke="#000" stroke-width="1.3" fill="none"/>
<path d="M232.26,862.80V931.25M228.76,862.80h7M228.76,931.25h7" stroke="#000" stroke-width="1.3" fill="none"/>
<path d="M107.94,951.43V951.94M104.44,951.43h7M104.44,951.94h7" stroke="#000" stroke-width="1.3" fill="none"/>
<path d="M139.02,950.16V951.18M135.52,950.16h7M135.52,951.18h7" stroke="#000" stroke-width="1.3" fill="none"/>
<path d="M170.10,948.37V949.90M166.60,948.37h7M166.60,949.90h7" stroke="#000" stroke-width="1.3" fill="none"/>
<path d="M201.18,946.84V949.39M197.68,946.84h7M197.68,949.39h7" stroke="#000" stroke-width="1.3" fill="none"/>
<path d="M232.26,933.04V952.20M228.76,933.04h7M228.76,952.20h7" stroke="#000" stroke-width="1.3" fill="none"/>
<polyline points="107.94,951.69 139.02,950.67 170.10,949.13 201.18,948.11 232.26,942.75" fill="none" stroke="#000" stroke-width="3.5" stroke-dasharray="7.5,4"/>
<polyline points="107.94,951.69 139.02,948.88 170.10,943.26 201.18,936.87 232.26,897.03" fill="none" stroke="#000" stroke-width="5.0" stroke-linejoin="round"/>
<path d="M107.94,945.69L113.94,951.69L107.94,957.69L101.94,951.69Z" fill="#000"/>
<path d="M139.02,942.88L145.02,948.88L139.02,954.88L133.02,948.88Z" fill="#000"/>
<path d="M170.10,937.26L176.10,943.26L170.10,949.26L164.10,943.26Z" fill="#000"/>
<path d="M201.18,930.87L207.18,936.87L201.18,942.87L195.18,936.87Z" fill="#000"/>
<path d="M232.26,891.03L238.26,897.03L232.26,903.03L226.26,897.03Z" fill="#000"/>
<circle cx="107.94" cy="951.69" r="3.3" fill="#fff" stroke="#000" stroke-width="1.8"/>
<circle cx="139.02" cy="950.67" r="3.3" fill="#fff" stroke="#000" stroke-width="1.8"/>
<circle cx="170.10" cy="949.13" r="3.3" fill="#fff" stroke="#000" stroke-width="1.8"/>
<circle cx="201.18" cy="948.11" r="3.3" fill="#fff" stroke="#000" stroke-width="1.8"/>
<circle cx="232.26" cy="942.75" r="3.3" fill="#fff" stroke="#000" stroke-width="1.8"/>
<text transform="translate(280.00,915.85) rotate(-90) scale(0.907,1)" font-size="14.5" text-anchor="middle" font-weight="normal" font-style="normal" fill="#000" >SBC x 10<tspan font-size="10.5" dy="-5.8">6</tspan></text>
<line x1="320.0" y1="969.90" x2="402.3" y2="969.90" stroke="#808080" stroke-width="1.5"/>
<text transform="translate(311.50,974.40)" font-size="12.5" text-anchor="end" font-weight="normal" font-style="normal" fill="#000" >0</text>
<line x1="320.0" y1="948.28" x2="402.3" y2="948.28" stroke="#808080" stroke-width="1.5"/>
<text transform="translate(311.50,952.78)" font-size="12.5" text-anchor="end" font-weight="normal" font-style="normal" fill="#000" >100</text>
<line x1="320.0" y1="926.66" x2="402.3" y2="926.66" stroke="#808080" stroke-width="1.5"/>
<text transform="translate(311.50,931.16)" font-size="12.5" text-anchor="end" font-weight="normal" font-style="normal" fill="#000" >200</text>
<line x1="320.0" y1="905.04" x2="402.3" y2="905.04" stroke="#808080" stroke-width="1.5"/>
<text transform="translate(311.50,909.54)" font-size="12.5" text-anchor="end" font-weight="normal" font-style="normal" fill="#000" >300</text>
<line x1="320.0" y1="883.42" x2="402.3" y2="883.42" stroke="#808080" stroke-width="1.5"/>
<text transform="translate(311.50,887.92)" font-size="12.5" text-anchor="end" font-weight="normal" font-style="normal" fill="#000" >400</text>
<line x1="320.0" y1="861.80" x2="402.3" y2="861.80" stroke="#808080" stroke-width="1.5"/>
<text transform="translate(311.50,866.30)" font-size="12.5" text-anchor="end" font-weight="normal" font-style="normal" fill="#000" >500</text>
<line x1="322.0" y1="861.05" x2="322.0" y2="970.65" stroke="#808080" stroke-width="1.5"/>
<rect x="339.8" y="898.99" width="22.5" height="70.91" fill="#000"/>
<path d="M351.0,882.34V898.99M347.5,882.34h7" stroke="#000" stroke-width="1.3"/>
<rect x="363.0" y="941.15" width="22.0" height="28.05" fill="#fff" stroke="#000" stroke-width="1.5"/>
<path d="M374.0,930.98V941.15M370.5,930.98h7" stroke="#000" stroke-width="1.3"/>
<text transform="translate(350.80,878.80)" font-size="12.5" text-anchor="middle" font-weight="normal" font-style="normal" fill="#000" >5</text>
<text transform="translate(374.00,923.50)" font-size="12.5" text-anchor="middle" font-weight="normal" font-style="normal" fill="#000" >5</text>
<text transform="translate(369.50,879.80)" font-size="12" text-anchor="start" font-weight="normal" font-style="normal" fill="#000" ><tspan font-style="italic">P</tspan>&lt;.01</text>
<clipPath id="cp6_0"><rect x="462" y="863.00" width="54" height="35.70"/></clipPath>
<rect x="462" y="863.00" width="54" height="35.70" fill="#c9c9c9"/>
<text transform="translate(449.00,885.15)" font-size="13.2" text-anchor="end" font-weight="normal" font-style="normal" fill="#000" >pS6</text>
<rect x="465.00" y="878.50" width="20.00" height="6.00" rx="3.0" fill="rgb(20,20,20)" filter="url(#f0)" clip-path="url(#cp6_0)"/>
<rect x="490.00" y="878.50" width="22.00" height="6.00" rx="3.0" fill="rgb(20,20,20)" filter="url(#f0)" clip-path="url(#cp6_0)"/>
<clipPath id="cp6_1"><rect x="462" y="901.00" width="54" height="34.50"/></clipPath>
<rect x="462" y="901.00" width="54" height="34.50" fill="#c9c9c9"/>
<text transform="translate(449.00,922.55)" font-size="13.2" text-anchor="end" font-weight="normal" font-style="normal" fill="#000" >S6</text>
<rect x="467.00" y="902.00" width="18.00" height="10.00" rx="5.0" fill="rgb(120,120,120)" filter="url(#f6)" clip-path="url(#cp6_1)"/>
<rect x="493.00" y="902.00" width="18.00" height="10.00" rx="5.0" fill="rgb(120,120,120)" filter="url(#f6)" clip-path="url(#cp6_1)"/>
<rect x="465.00" y="913.70" width="21.00" height="8.00" rx="4.0" fill="rgb(35,35,35)" filter="url(#f3)" clip-path="url(#cp6_1)"/>
<rect x="491.00" y="913.70" width="21.00" height="8.00" rx="4.0" fill="rgb(35,35,35)" filter="url(#f3)" clip-path="url(#cp6_1)"/>
<clipPath id="cp6_2"><rect x="462" y="938.20" width="54" height="34.40"/></clipPath>
<rect x="462" y="938.20" width="54" height="34.40" fill="#c9c9c9"/>
<text transform="translate(448.60,959.70) scale(0.88,1)" font-size="14" text-anchor="end" font-weight="normal" font-style="normal" fill="#000" >actin</text>
<rect x="462.30" y="952.20" width="25.70" height="8.00" rx="4.0" fill="rgb(75,75,75)" filter="url(#f0)" clip-path="url(#cp6_2)"/>
<rect x="491.00" y="952.20" width="24.60" height="8.00" rx="4.0" fill="rgb(75,75,75)" filter="url(#f0)" clip-path="url(#cp6_2)"/>
<text transform="translate(19.40,1047.50) rotate(-90) scale(0.917,1)" font-size="16" text-anchor="middle" font-weight="normal" font-style="normal" fill="#000" >VIII. <tspan font-style="italic">IL7R</tspan><tspan font-size="10.5" dy="4.1">m</tspan><tspan dy="-4.1">/</tspan><tspan font-style="italic">SH2B3</tspan><tspan font-size="10.5" dy="4.1">del</tspan></text>
<line x1="31.1" y1="992.0" x2="31.1" y2="1103.0" stroke="#000" stroke-width="2"/>
<text transform="translate(52.80,1040.70) rotate(-90) scale(0.9,1)" font-size="15" text-anchor="middle" font-weight="normal" font-style="normal" fill="#000" >PBC x 10<tspan font-size="10" dy="-5.2">3</tspan><tspan dy="5.2">/µL</tspan></text>
<line x1="88.2" y1="1086.20" x2="91.6" y2="1086.20" stroke="#808080" stroke-width="1.5"/>
<text transform="translate(80.20,1090.50)" font-size="12.3" text-anchor="end" font-weight="normal" font-style="normal" fill="#000" >0.0</text>
<line x1="91.6" y1="1068.32" x2="247.0" y2="1068.32" stroke="#808080" stroke-width="1.5"/>
<line x1="88.2" y1="1068.32" x2="91.6" y2="1068.32" stroke="#808080" stroke-width="1.5"/>
<text transform="translate(80.20,1072.62)" font-size="12.3" text-anchor="end" font-weight="normal" font-style="normal" fill="#000" >0.2</text>
<line x1="91.6" y1="1050.44" x2="247.0" y2="1050.44" stroke="#808080" stroke-width="1.5"/>
<line x1="88.2" y1="1050.44" x2="91.6" y2="1050.44" stroke="#808080" stroke-width="1.5"/>
<text transform="translate(80.20,1054.74)" font-size="12.3" text-anchor="end" font-weight="normal" font-style="normal" fill="#000" >0.4</text>
<line x1="91.6" y1="1032.56" x2="247.0" y2="1032.56" stroke="#808080" stroke-width="1.5"/>
<line x1="88.2" y1="1032.56" x2="91.6" y2="1032.56" stroke="#808080" stroke-width="1.5"/>
<text transform="translate(80.20,1036.86)" font-size="12.3" text-anchor="end" font-weight="normal" font-style="normal" fill="#000" >0.6</text>
<line x1="91.6" y1="1014.68" x2="247.0" y2="1014.68" stroke="#808080" stroke-width="1.5"/>
<line x1="88.2" y1="1014.68" x2="91.6" y2="1014.68" stroke="#808080" stroke-width="1.5"/>
<text transform="translate(80.20,1018.98)" font-size="12.3" text-anchor="end" font-weight="normal" font-style="normal" fill="#000" >0.8</text>
<line x1="91.6" y1="996.80" x2="247.0" y2="996.80" stroke="#808080" stroke-width="1.5"/>
<line x1="88.2" y1="996.80" x2="91.6" y2="996.80" stroke="#808080" stroke-width="1.5"/>
<text transform="translate(80.20,1001.10)" font-size="12.3" text-anchor="end" font-weight="normal" font-style="normal" fill="#000" >1.0</text>
<line x1="91.6" y1="996.05" x2="91.6" y2="1086.95" stroke="#808080" stroke-width="1.5"/>
<line x1="90.85" y1="1086.20" x2="247.0" y2="1086.20" stroke="#808080" stroke-width="1.5"/>
<line x1="91.60" y1="1086.20" x2="91.60" y2="1089.70" stroke="#808080" stroke-width="1.5"/>
<line x1="122.68" y1="1086.20" x2="122.68" y2="1089.70" stroke="#808080" stroke-width="1.5"/>
<line x1="153.76" y1="1086.20" x2="153.76" y2="1089.70" stroke="#808080" stroke-width="1.5"/>
<line x1="184.84" y1="1086.20" x2="184.84" y2="1089.70" stroke="#808080" stroke-width="1.5"/>
<line x1="215.92" y1="1086.20" x2="215.92" y2="1089.70" stroke="#808080" stroke-width="1.5"/>
<line x1="247.00" y1="1086.20" x2="247.00" y2="1089.70" stroke="#808080" stroke-width="1.5"/>
<text transform="translate(107.14,1103.10)" font-size="12.3" text-anchor="middle" font-weight="normal" font-style="normal" fill="#000" >0</text>
<text transform="translate(138.22,1103.10)" font-size="12.3" text-anchor="middle" font-weight="normal" font-style="normal" fill="#000" >1</text>
<text transform="translate(169.30,1103.10)" font-size="12.3" text-anchor="middle" font-weight="normal" font-style="normal" fill="#000" >2</text>
<text transform="translate(200.38,1103.10)" font-size="12.3" text-anchor="middle" font-weight="normal" font-style="normal" fill="#000" >3</text>
<text transform="translate(231.46,1103.10)" font-size="12.3" text-anchor="middle" font-weight="normal" font-style="normal" fill="#000" >4</text>
<text transform="translate(97.50,1008.40)" font-size="12" text-anchor="start" font-weight="normal" font-style="normal" fill="#000" ><tspan font-style="italic">P</tspan>&lt;.01</text>
<path d="M107.94,1080.84V1084.41M104.44,1080.84h7M104.44,1084.41h7" stroke="#000" stroke-width="1.3" fill="none"/>
<path d="M139.02,1052.23V1057.59M135.52,1052.23h7M135.52,1057.59h7" stroke="#000" stroke-width="1.3" fill="none"/>
<path d="M170.10,1037.03V1065.64M166.60,1037.03h7M166.60,1065.64h7" stroke="#000" stroke-width="1.3" fill="none"/>
<path d="M201.18,1000.38V1054.02M197.68,1000.38h7M197.68,1054.02h7" stroke="#000" stroke-width="1.3" fill="none"/>
<path d="M232.26,1012.89V1059.38M228.76,1012.89h7M228.76,1059.38h7" stroke="#000" stroke-width="1.3" fill="none"/>
<path d="M107.94,1079.05V1086.20M104.44,1079.05h7M104.44,1086.20h7" stroke="#000" stroke-width="1.3" fill="none"/>
<path d="M139.02,1067.43V1071.00M135.52,1067.43h7M135.52,1071.00h7" stroke="#000" stroke-width="1.3" fill="none"/>
<path d="M170.10,1072.79V1079.94M166.60,1072.79h7M166.60,1079.94h7" stroke="#000" stroke-width="1.3" fill="none"/>
<path d="M201.18,1080.84V1082.62M197.68,1080.84h7M197.68,1082.62h7" stroke="#000" stroke-width="1.3" fill="none"/>
<path d="M232.26,1084.41V1086.20M228.76,1084.41h7M228.76,1086.20h7" stroke="#000" stroke-width="1.3" fill="none"/>
<polyline points="107.94,1082.62 139.02,1069.21 170.10,1076.37 201.18,1081.73 232.26,1085.31" fill="none" stroke="#000" stroke-width="3.5" stroke-dasharray="7.5,4"/>
<polyline points="107.94,1082.62 139.02,1054.91 170.10,1051.33 201.18,1027.20 232.26,1036.14" fill="none" stroke="#000" stroke-width="5.0" stroke-linejoin="round"/>
<path d="M107.94,1076.62L113.94,1082.62L107.94,1088.62L101.94,1082.62Z" fill="#000"/>
<path d="M139.02,1048.91L145.02,1054.91L139.02,1060.91L133.02,1054.91Z" fill="#000"/>
<path d="M170.10,1045.33L176.10,1051.33L170.10,1057.33L164.10,1051.33Z" fill="#000"/>
<path d="M201.18,1021.20L207.18,1027.20L201.18,1033.20L195.18,1027.20Z" fill="#000"/>
<path d="M232.26,1030.14L238.26,1036.14L232.26,1042.14L226.26,1036.14Z" fill="#000"/>
<circle cx="107.94" cy="1082.62" r="3.3" fill="#fff" stroke="#000" stroke-width="1.8"/>
<circle cx="139.02" cy="1069.21" r="3.3" fill="#fff" stroke="#000" stroke-width="1.8"/>
<circle cx="170.10" cy="1076.37" r="3.3" fill="#fff" stroke="#000" stroke-width="1.8"/>
<circle cx="201.18" cy="1081.73" r="3.3" fill="#fff" stroke="#000" stroke-width="1.8"/>
<circle cx="232.26" cy="1085.31" r="3.3" fill="#fff" stroke="#000" stroke-width="1.8"/>
<text transform="translate(280.00,1049.85) rotate(-90) scale(0.907,1)" font-size="14.5" text-anchor="middle" font-weight="normal" font-style="normal" fill="#000" >SBC x 10<tspan font-size="10.5" dy="-5.8">6</tspan></text>
<line x1="320.0" y1="1103.90" x2="402.3" y2="1103.90" stroke="#808080" stroke-width="1.5"/>
<text transform="translate(311.50,1108.40)" font-size="12.5" text-anchor="end" font-weight="normal" font-style="normal" fill="#000" >0</text>
<line x1="320.0" y1="1082.28" x2="402.3" y2="1082.28" stroke="#808080" stroke-width="1.5"/>
<text transform="translate(311.50,1086.78)" font-size="12.5" text-anchor="end" font-weight="normal" font-style="normal" fill="#000" >50</text>
<line x1="320.0" y1="1060.66" x2="402.3" y2="1060.66" stroke="#808080" stroke-width="1.5"/>
<text transform="translate(311.50,1065.16)" font-size="12.5" text-anchor="end" font-weight="normal" font-style="normal" fill="#000" >100</text>
<line x1="320.0" y1="1039.04" x2="402.3" y2="1039.04" stroke="#808080" stroke-width="1.5"/>
<text transform="translate(311.50,1043.54)" font-size="12.5" text-anchor="end" font-weight="normal" font-style="normal" fill="#000" >150</text>
<line x1="320.0" y1="1017.42" x2="402.3" y2="1017.42" stroke="#808080" stroke-width="1.5"/>
<text transform="translate(311.50,1021.92)" font-size="12.5" text-anchor="end" font-weight="normal" font-style="normal" fill="#000" >200</text>
<line x1="320.0" y1="995.80" x2="402.3" y2="995.80" stroke="#808080" stroke-width="1.5"/>
<text transform="translate(311.50,1000.30)" font-size="12.5" text-anchor="end" font-weight="normal" font-style="normal" fill="#000" >250</text>
<line x1="322.0" y1="995.05" x2="322.0" y2="1104.65" stroke="#808080" stroke-width="1.5"/>
<rect x="339.8" y="1025.20" width="22.5" height="78.70" fill="#000"/>
<path d="M351.0,1013.10V1025.20M347.5,1013.10h7" stroke="#000" stroke-width="1.3"/>
<rect x="363.0" y="1100.44" width="22.0" height="2.76" fill="#fff" stroke="#000" stroke-width="1.5"/>
<path d="M374.0,1098.28V1100.44M370.5,1098.28h7" stroke="#000" stroke-width="1.3"/>
<text transform="translate(350.80,1010.40)" font-size="12.5" text-anchor="middle" font-weight="normal" font-style="normal" fill="#000" >5</text>
<text transform="translate(374.00,1091.70)" font-size="12.5" text-anchor="middle" font-weight="normal" font-style="normal" fill="#000" >5</text>
<text transform="translate(369.50,1013.80)" font-size="12" text-anchor="start" font-weight="normal" font-style="normal" fill="#000" ><tspan font-style="italic">P</tspan>&lt;.01</text>
<clipPath id="cp7_0"><rect x="462" y="996.00" width="54" height="35.70"/></clipPath>
<rect x="462" y="996.00" width="54" height="35.70" fill="#c9c9c9"/>
<text transform="translate(449.00,1018.15)" font-size="13.2" text-anchor="end" font-weight="normal" font-style="normal" fill="#000" >pS6</text>
<rect x="463.00" y="1010.50" width="23.00" height="9.00" rx="4.5" fill="rgb(5,5,5)" filter="url(#f0)" clip-path="url(#cp7_0)"/>
<rect x="493.00" y="1012.50" width="21.00" height="6.00" rx="3.0" fill="rgb(50,50,50)" filter="url(#f0)" clip-path="url(#cp7_0)"/>
<clipPath id="cp7_1"><rect x="462" y="1034.00" width="54" height="34.50"/></clipPath>
<rect x="462" y="1034.00" width="54" height="34.50" fill="#c9c9c9"/>
<text transform="translate(449.00,1055.55)" font-size="13.2" text-anchor="end" font-weight="normal" font-style="normal" fill="#000" >S6</text>
<rect x="465.00" y="1042.00" width="13.00" height="6.00" rx="3.0" fill="rgb(150,150,150)" filter="url(#f1)" clip-path="url(#cp7_1)"/>
<rect x="463.00" y="1050.20" width="21.00" height="5.00" rx="2.5" fill="rgb(80,80,80)" filter="url(#f3)" clip-path="url(#cp7_1)"/>
<rect x="491.00" y="1050.20" width="24.00" height="5.00" rx="2.5" fill="rgb(80,80,80)" filter="url(#f3)" clip-path="url(#cp7_1)"/>
<clipPath id="cp7_2"><rect x="462" y="1071.20" width="54" height="34.40"/></clipPath>
<rect x="462" y="1071.20" width="54" height="34.40" fill="#c9c9c9"/>
<text transform="translate(448.60,1092.70) scale(0.88,1)" font-size="14" text-anchor="end" font-weight="normal" font-style="normal" fill="#000" >actin</text>
<rect x="462.30" y="1083.30" width="24.70" height="8.00" rx="4.0" fill="rgb(80,80,80)" filter="url(#f0)" clip-path="url(#cp7_2)"/>
<rect x="490.00" y="1083.30" width="25.60" height="8.00" rx="4.0" fill="rgb(80,80,80)" filter="url(#f0)" clip-path="url(#cp7_2)"/>
<text transform="translate(169.50,1125.50) scale(0.905,1)" font-size="14.2" text-anchor="middle" font-weight="normal" font-style="normal" fill="#000" >Weeks of Treatment</text>
<defs><filter id="f0" x="-30%" y="-100%" width="160%" height="300%"><feGaussianBlur stdDeviation="0.9"/></filter><filter id="f1" x="-30%" y="-100%" width="160%" height="300%"><feGaussianBlur stdDeviation="2.5"/></filter><filter id="f2" x="-30%" y="-100%" width="160%" height="300%"><feGaussianBlur stdDeviation="1.6"/></filter><filter id="f3" x="-30%" y="-100%" width="160%" height="300%"><feGaussianBlur stdDeviation="1.3"/></filter><filter id="f4" x="-30%" y="-100%" width="160%" height="300%"><feGaussianBlur stdDeviation="1.5"/></filter><filter id="f5" x="-30%" y="-100%" width="160%" height="300%"><feGaussianBlur stdDeviation="2.2"/></filter><filter id="f6" x="-30%" y="-100%" width="160%" height="300%"><feGaussianBlur stdDeviation="2.8"/></filter></defs>
</svg>
</body></html>
